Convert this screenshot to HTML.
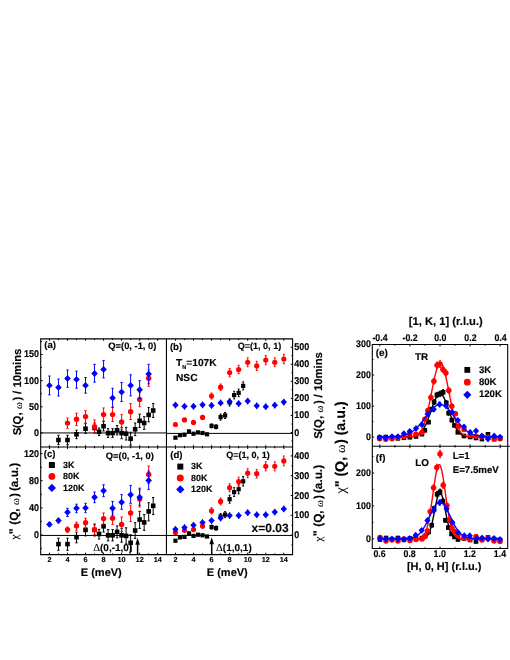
<!DOCTYPE html>
<html><head><meta charset="utf-8"><title>figure</title>
<style>html,body{margin:0;padding:0;background:#fff}svg{display:block}text{font-family:"Liberation Sans",sans-serif;font-weight:bold;fill:#000;stroke:#000;stroke-width:0.15px;text-rendering:geometricPrecision}.sy{font-family:"Liberation Serif",serif;font-weight:normal;stroke-width:0.1px}</style></head><body>
<svg width="510" height="660" viewBox="0 0 510 660">
<rect width="510" height="660" fill="#fff"/>
<g opacity="0.999">
<line x1="40.7" y1="432.95" x2="166.45" y2="432.95" stroke="#6e6e6e" stroke-width="1.7"/>
<line x1="40.7" y1="535.45" x2="166.45" y2="535.45" stroke="#000" stroke-width="1.0"/>
<line x1="166.45" y1="433.4" x2="292.6" y2="433.4" stroke="#000" stroke-width="1.0"/>
<line x1="166.45" y1="535.45" x2="292.6" y2="535.45" stroke="#000" stroke-width="1.0"/>
<path d="M58.47 435.3V444.6M57.27 435.3H59.67M57.27 444.6H59.67" stroke="#000" stroke-width="1.0" fill="none"/>
<rect x="56.17" y="437.7" width="4.6" height="4.6" fill="#000"/>
<path d="M67.49 435.3V444.6M66.29 435.3H68.69M66.29 444.6H68.69" stroke="#000" stroke-width="1.0" fill="none"/>
<rect x="65.19" y="437.7" width="4.6" height="4.6" fill="#000"/>
<path d="M76.51 430.2V438.7M75.31 430.2H77.71M75.31 438.7H77.71" stroke="#000" stroke-width="1.0" fill="none"/>
<rect x="74.21" y="432" width="4.6" height="4.6" fill="#000"/>
<path d="M85.53 423.6V433.4M84.33 423.6H86.73M84.33 433.4H86.73" stroke="#000" stroke-width="1.0" fill="none"/>
<rect x="83.23" y="426.4" width="4.6" height="4.6" fill="#000"/>
<path d="M94.55 423V433M93.35 423H95.75M93.35 433H95.75" stroke="#000" stroke-width="1.0" fill="none"/>
<rect x="92.25" y="425.7" width="4.6" height="4.6" fill="#000"/>
<path d="M99.06 428V435.6M97.86 428H100.26M97.86 435.6H100.26" stroke="#000" stroke-width="1.0" fill="none"/>
<rect x="96.76" y="429.5" width="4.6" height="4.6" fill="#000"/>
<path d="M103.57 421.5V431M102.37 421.5H104.77M102.37 431H104.77" stroke="#000" stroke-width="1.0" fill="none"/>
<rect x="101.27" y="423.9" width="4.6" height="4.6" fill="#000"/>
<path d="M108.08 428.7V437.4M106.88 428.7H109.28M106.88 437.4H109.28" stroke="#000" stroke-width="1.0" fill="none"/>
<rect x="105.78" y="430.8" width="4.6" height="4.6" fill="#000"/>
<path d="M112.59 428.7V437.4M111.39 428.7H113.79M111.39 437.4H113.79" stroke="#000" stroke-width="1.0" fill="none"/>
<rect x="110.29" y="430.8" width="4.6" height="4.6" fill="#000"/>
<path d="M117.1 425.5V434.9M115.9 425.5H118.3M115.9 434.9H118.3" stroke="#000" stroke-width="1.0" fill="none"/>
<rect x="114.8" y="427.9" width="4.6" height="4.6" fill="#000"/>
<path d="M121.61 427.4V438.7M120.41 427.4H122.81M120.41 438.7H122.81" stroke="#000" stroke-width="1.0" fill="none"/>
<rect x="119.31" y="430.8" width="4.6" height="4.6" fill="#000"/>
<path d="M126.12 427.4V440M124.92 427.4H127.32M124.92 440H127.32" stroke="#000" stroke-width="1.0" fill="none"/>
<rect x="123.82" y="431.4" width="4.6" height="4.6" fill="#000"/>
<path d="M130.63 432.2V445.2M129.43 432.2H131.83M129.43 445.2H131.83" stroke="#000" stroke-width="1.0" fill="none"/>
<rect x="128.33" y="436.4" width="4.6" height="4.6" fill="#000"/>
<path d="M135.14 423V435.6M133.94 423H136.34M133.94 435.6H136.34" stroke="#000" stroke-width="1.0" fill="none"/>
<rect x="132.84" y="427" width="4.6" height="4.6" fill="#000"/>
<path d="M139.65 414.2V427.4M138.45 414.2H140.85M138.45 427.4H140.85" stroke="#000" stroke-width="1.0" fill="none"/>
<rect x="137.35" y="418.5" width="4.6" height="4.6" fill="#000"/>
<path d="M144.16 416.7V429.3M142.96 416.7H145.36M142.96 429.3H145.36" stroke="#000" stroke-width="1.0" fill="none"/>
<rect x="141.86" y="420.7" width="4.6" height="4.6" fill="#000"/>
<path d="M148.67 407.6V421.8M147.47 407.6H149.87M147.47 421.8H149.87" stroke="#000" stroke-width="1.0" fill="none"/>
<rect x="146.37" y="412.6" width="4.6" height="4.6" fill="#000"/>
<path d="M153.18 403.6V417.4M151.98 403.6H154.38M151.98 417.4H154.38" stroke="#000" stroke-width="1.0" fill="none"/>
<rect x="150.88" y="408.2" width="4.6" height="4.6" fill="#000"/>
<path d="M67.49 418V428.3M66.29 418H68.69M66.29 428.3H68.69" stroke="#ff0000" stroke-width="1.0" fill="none"/>
<circle cx="67.49" cy="423.1" r="2.7" fill="#ff0000"/>
<path d="M76.51 413.2V425.5M75.31 413.2H77.71M75.31 425.5H77.71" stroke="#ff0000" stroke-width="1.0" fill="none"/>
<circle cx="76.51" cy="419.2" r="2.7" fill="#ff0000"/>
<path d="M85.53 410.7V423M84.33 410.7H86.73M84.33 423H86.73" stroke="#ff0000" stroke-width="1.0" fill="none"/>
<circle cx="85.53" cy="416.6" r="2.7" fill="#ff0000"/>
<path d="M94.55 420V432.8M93.35 420H95.75M93.35 432.8H95.75" stroke="#ff0000" stroke-width="1.0" fill="none"/>
<circle cx="94.55" cy="426.8" r="2.7" fill="#ff0000"/>
<path d="M103.57 408V421M102.37 408H104.77M102.37 421H104.77" stroke="#ff0000" stroke-width="1.0" fill="none"/>
<circle cx="103.57" cy="414.6" r="2.7" fill="#ff0000"/>
<path d="M112.59 407.3V421.5M111.39 407.3H113.79M111.39 421.5H113.79" stroke="#ff0000" stroke-width="1.0" fill="none"/>
<circle cx="112.59" cy="414.6" r="2.7" fill="#ff0000"/>
<path d="M121.61 414.6V429.3M120.41 414.6H122.81M120.41 429.3H122.81" stroke="#ff0000" stroke-width="1.0" fill="none"/>
<circle cx="121.61" cy="422" r="2.7" fill="#ff0000"/>
<path d="M130.63 403.6V419.5M129.43 403.6H131.83M129.43 419.5H131.83" stroke="#ff0000" stroke-width="1.0" fill="none"/>
<circle cx="130.63" cy="411.7" r="2.7" fill="#ff0000"/>
<path d="M139.65 392V406.7M138.45 392H140.85M138.45 406.7H140.85" stroke="#ff0000" stroke-width="1.0" fill="none"/>
<circle cx="139.65" cy="399.4" r="2.7" fill="#ff0000"/>
<path d="M148.67 370V386.3M147.47 370H149.87M147.47 386.3H149.87" stroke="#ff0000" stroke-width="1.0" fill="none"/>
<circle cx="148.67" cy="378.2" r="2.7" fill="#ff0000"/>
<path d="M49.45 376V394.8M48.25 376H50.65M48.25 394.8H50.65" stroke="#0000ff" stroke-width="1.0" fill="none"/>
<path d="M49.45 381.95L52.75 385.4L49.45 388.85L46.15 385.4Z" fill="#0000ff"/>
<path d="M58.47 379V396M57.27 379H59.67M57.27 396H59.67" stroke="#0000ff" stroke-width="1.0" fill="none"/>
<path d="M58.47 383.95L61.77 387.4L58.47 390.85L55.17 387.4Z" fill="#0000ff"/>
<path d="M67.49 370V387.3M66.29 370H68.69M66.29 387.3H68.69" stroke="#0000ff" stroke-width="1.0" fill="none"/>
<path d="M67.49 375.05L70.79 378.5L67.49 381.95L64.19 378.5Z" fill="#0000ff"/>
<path d="M76.51 371.2V388.2M75.31 371.2H77.71M75.31 388.2H77.71" stroke="#0000ff" stroke-width="1.0" fill="none"/>
<path d="M76.51 375.95L79.81 379.4L76.51 382.85L73.21 379.4Z" fill="#0000ff"/>
<path d="M85.53 377.5V393.2M84.33 377.5H86.73M84.33 393.2H86.73" stroke="#0000ff" stroke-width="1.0" fill="none"/>
<path d="M85.53 381.95L88.83 385.4L85.53 388.85L82.23 385.4Z" fill="#0000ff"/>
<path d="M94.55 364.3V382.2M93.35 364.3H95.75M93.35 382.2H95.75" stroke="#0000ff" stroke-width="1.0" fill="none"/>
<path d="M94.55 370.05L97.85 373.5L94.55 376.95L91.25 373.5Z" fill="#0000ff"/>
<path d="M103.57 360.6V377.9M102.37 360.6H104.77M102.37 377.9H104.77" stroke="#0000ff" stroke-width="1.0" fill="none"/>
<path d="M103.57 365.95L106.87 369.4L103.57 372.85L100.27 369.4Z" fill="#0000ff"/>
<path d="M112.59 388.3V407.3M111.39 388.3H113.79M111.39 407.3H113.79" stroke="#0000ff" stroke-width="1.0" fill="none"/>
<path d="M112.59 394.45L115.89 397.9L112.59 401.35L109.29 397.9Z" fill="#0000ff"/>
<path d="M121.61 382.5V401.5M120.41 382.5H122.81M120.41 401.5H122.81" stroke="#0000ff" stroke-width="1.0" fill="none"/>
<path d="M121.61 388.65L124.91 392.1L121.61 395.55L118.31 392.1Z" fill="#0000ff"/>
<path d="M130.63 374.8V395.9M129.43 374.8H131.83M129.43 395.9H131.83" stroke="#0000ff" stroke-width="1.0" fill="none"/>
<path d="M130.63 381.95L133.93 385.4L130.63 388.85L127.33 385.4Z" fill="#0000ff"/>
<path d="M139.65 380.7V398.7M138.45 380.7H140.85M138.45 398.7H140.85" stroke="#0000ff" stroke-width="1.0" fill="none"/>
<path d="M139.65 386.35L142.95 389.8L139.65 393.25L136.35 389.8Z" fill="#0000ff"/>
<path d="M148.67 364.3V383.8M147.47 364.3H149.87M147.47 383.8H149.87" stroke="#0000ff" stroke-width="1.0" fill="none"/>
<path d="M148.67 370.65L151.97 374.1L148.67 377.55L145.37 374.1Z" fill="#0000ff"/>
<path d="M58.47 538.2V550.3M57.27 538.2H59.67M57.27 550.3H59.67" stroke="#000" stroke-width="1.0" fill="none"/>
<rect x="56.17" y="541.8" width="4.6" height="4.6" fill="#000"/>
<path d="M67.49 538.2V550.3M66.29 538.2H68.69M66.29 550.3H68.69" stroke="#000" stroke-width="1.0" fill="none"/>
<rect x="65.19" y="541.8" width="4.6" height="4.6" fill="#000"/>
<path d="M76.51 532.2V542.8M75.31 532.2H77.71M75.31 542.8H77.71" stroke="#000" stroke-width="1.0" fill="none"/>
<rect x="74.21" y="534.9" width="4.6" height="4.6" fill="#000"/>
<path d="M85.53 524V535.9M84.33 524H86.73M84.33 535.9H86.73" stroke="#000" stroke-width="1.0" fill="none"/>
<rect x="83.23" y="527.6" width="4.6" height="4.6" fill="#000"/>
<path d="M94.55 524V536M93.35 524H95.75M93.35 536H95.75" stroke="#000" stroke-width="1.0" fill="none"/>
<rect x="92.25" y="527.6" width="4.6" height="4.6" fill="#000"/>
<path d="M99.06 529.4V539M97.86 529.4H100.26M97.86 539H100.26" stroke="#000" stroke-width="1.0" fill="none"/>
<rect x="96.76" y="531.7" width="4.6" height="4.6" fill="#000"/>
<path d="M103.57 520.5V532M102.37 520.5H104.77M102.37 532H104.77" stroke="#000" stroke-width="1.0" fill="none"/>
<rect x="101.27" y="524" width="4.6" height="4.6" fill="#000"/>
<path d="M108.08 529.6V540.9M106.88 529.6H109.28M106.88 540.9H109.28" stroke="#000" stroke-width="1.0" fill="none"/>
<rect x="105.78" y="533" width="4.6" height="4.6" fill="#000"/>
<path d="M112.59 529.6V540.9M111.39 529.6H113.79M111.39 540.9H113.79" stroke="#000" stroke-width="1.0" fill="none"/>
<rect x="110.29" y="533" width="4.6" height="4.6" fill="#000"/>
<path d="M117.1 525.9V537.8M115.9 525.9H118.3M115.9 537.8H118.3" stroke="#000" stroke-width="1.0" fill="none"/>
<rect x="114.8" y="529.6" width="4.6" height="4.6" fill="#000"/>
<path d="M121.61 528.4V542.2M120.41 528.4H122.81M120.41 542.2H122.81" stroke="#000" stroke-width="1.0" fill="none"/>
<rect x="119.31" y="533" width="4.6" height="4.6" fill="#000"/>
<path d="M126.12 527.8V544M124.92 527.8H127.32M124.92 544H127.32" stroke="#000" stroke-width="1.0" fill="none"/>
<rect x="123.82" y="533.6" width="4.6" height="4.6" fill="#000"/>
<path d="M130.63 534.7V551M129.43 534.7H131.83M129.43 551H131.83" stroke="#000" stroke-width="1.0" fill="none"/>
<rect x="128.33" y="540.5" width="4.6" height="4.6" fill="#000"/>
<path d="M135.14 522.7V538.4M133.94 522.7H136.34M133.94 538.4H136.34" stroke="#000" stroke-width="1.0" fill="none"/>
<rect x="132.84" y="528.2" width="4.6" height="4.6" fill="#000"/>
<path d="M139.65 511.4V528.4M138.45 511.4H140.85M138.45 528.4H140.85" stroke="#000" stroke-width="1.0" fill="none"/>
<rect x="137.35" y="517.3" width="4.6" height="4.6" fill="#000"/>
<path d="M144.16 514.6V530.3M142.96 514.6H145.36M142.96 530.3H145.36" stroke="#000" stroke-width="1.0" fill="none"/>
<rect x="141.86" y="520.1" width="4.6" height="4.6" fill="#000"/>
<path d="M148.67 502.7V520.9M147.47 502.7H149.87M147.47 520.9H149.87" stroke="#000" stroke-width="1.0" fill="none"/>
<rect x="146.37" y="509.1" width="4.6" height="4.6" fill="#000"/>
<path d="M153.18 497.6V514.6M151.98 497.6H154.38M151.98 514.6H154.38" stroke="#000" stroke-width="1.0" fill="none"/>
<rect x="150.88" y="503.5" width="4.6" height="4.6" fill="#000"/>
<path d="M67.49 527.1V532.4M66.29 527.1H68.69M66.29 532.4H68.69" stroke="#ff0000" stroke-width="1.0" fill="none"/>
<circle cx="67.49" cy="529.6" r="2.7" fill="#ff0000"/>
<path d="M76.51 522.1V530.3M75.31 522.1H77.71M75.31 530.3H77.71" stroke="#ff0000" stroke-width="1.0" fill="none"/>
<circle cx="76.51" cy="525.9" r="2.7" fill="#ff0000"/>
<path d="M85.53 518.3V527.8M84.33 518.3H86.73M84.33 527.8H86.73" stroke="#ff0000" stroke-width="1.0" fill="none"/>
<circle cx="85.53" cy="522.7" r="2.7" fill="#ff0000"/>
<path d="M94.55 525.2V534.7M93.35 525.2H95.75M93.35 534.7H95.75" stroke="#ff0000" stroke-width="1.0" fill="none"/>
<circle cx="94.55" cy="529.6" r="2.7" fill="#ff0000"/>
<path d="M103.57 513V524M102.37 513H104.77M102.37 524H104.77" stroke="#ff0000" stroke-width="1.0" fill="none"/>
<circle cx="103.57" cy="518.6" r="2.7" fill="#ff0000"/>
<path d="M112.59 512V524.4M111.39 512H113.79M111.39 524.4H113.79" stroke="#ff0000" stroke-width="1.0" fill="none"/>
<circle cx="112.59" cy="518.3" r="2.7" fill="#ff0000"/>
<path d="M121.61 517V531.5M120.41 517H122.81M120.41 531.5H122.81" stroke="#ff0000" stroke-width="1.0" fill="none"/>
<circle cx="121.61" cy="524.4" r="2.7" fill="#ff0000"/>
<path d="M130.63 505.2V521.5M129.43 505.2H131.83M129.43 521.5H131.83" stroke="#ff0000" stroke-width="1.0" fill="none"/>
<circle cx="130.63" cy="513" r="2.7" fill="#ff0000"/>
<path d="M139.65 489.8V507M138.45 489.8H140.85M138.45 507H140.85" stroke="#ff0000" stroke-width="1.0" fill="none"/>
<circle cx="139.65" cy="499" r="2.7" fill="#ff0000"/>
<path d="M148.67 466V483.5M147.47 466H149.87M147.47 483.5H149.87" stroke="#ff0000" stroke-width="1.0" fill="none"/>
<circle cx="148.67" cy="474.5" r="2.7" fill="#ff0000"/>
<path d="M49.45 522.6V526.2M48.25 522.6H50.65M48.25 526.2H50.65" stroke="#0000ff" stroke-width="1.0" fill="none"/>
<path d="M49.45 520.95L52.75 524.4L49.45 527.85L46.15 524.4Z" fill="#0000ff"/>
<path d="M58.47 518.4V522.8M57.27 518.4H59.67M57.27 522.8H59.67" stroke="#0000ff" stroke-width="1.0" fill="none"/>
<path d="M58.47 517.15L61.77 520.6L58.47 524.05L55.17 520.6Z" fill="#0000ff"/>
<path d="M67.49 508.3V516.5M66.29 508.3H68.69M66.29 516.5H68.69" stroke="#0000ff" stroke-width="1.0" fill="none"/>
<path d="M67.49 508.85L70.79 512.3L67.49 515.75L64.19 512.3Z" fill="#0000ff"/>
<path d="M76.51 504.2V512.7M75.31 504.2H77.71M75.31 512.7H77.71" stroke="#0000ff" stroke-width="1.0" fill="none"/>
<path d="M76.51 504.85L79.81 508.3L76.51 511.75L73.21 508.3Z" fill="#0000ff"/>
<path d="M85.53 503.3V512.7M84.33 503.3H86.73M84.33 512.7H86.73" stroke="#0000ff" stroke-width="1.0" fill="none"/>
<path d="M85.53 504.45L88.83 507.9L85.53 511.35L82.23 507.9Z" fill="#0000ff"/>
<path d="M94.55 492V502.7M93.35 492H95.75M93.35 502.7H95.75" stroke="#0000ff" stroke-width="1.0" fill="none"/>
<path d="M94.55 493.85L97.85 497.3L94.55 500.75L91.25 497.3Z" fill="#0000ff"/>
<path d="M103.57 484.8V496.7M102.37 484.8H104.77M102.37 496.7H104.77" stroke="#0000ff" stroke-width="1.0" fill="none"/>
<path d="M103.57 487.25L106.87 490.7L103.57 494.15L100.27 490.7Z" fill="#0000ff"/>
<path d="M112.59 501.4V515M111.39 501.4H113.79M111.39 515H113.79" stroke="#0000ff" stroke-width="1.0" fill="none"/>
<path d="M112.59 504.85L115.89 508.3L112.59 511.75L109.29 508.3Z" fill="#0000ff"/>
<path d="M121.61 494.6V509.3M120.41 494.6H122.81M120.41 509.3H122.81" stroke="#0000ff" stroke-width="1.0" fill="none"/>
<path d="M121.61 498.75L124.91 502.2L121.61 505.65L118.31 502.2Z" fill="#0000ff"/>
<path d="M130.63 485.4V503.3M129.43 485.4H131.83M129.43 503.3H131.83" stroke="#0000ff" stroke-width="1.0" fill="none"/>
<path d="M130.63 491.25L133.93 494.7L130.63 498.15L127.33 494.7Z" fill="#0000ff"/>
<path d="M139.65 488.2V505.2M138.45 488.2H140.85M138.45 505.2H140.85" stroke="#0000ff" stroke-width="1.0" fill="none"/>
<path d="M139.65 493.75L142.95 497.2L139.65 500.65L136.35 497.2Z" fill="#0000ff"/>
<path d="M148.67 471V489.4M147.47 471H149.87M147.47 489.4H149.87" stroke="#0000ff" stroke-width="1.0" fill="none"/>
<path d="M148.67 476.95L151.97 480.4L148.67 483.85L145.37 480.4Z" fill="#0000ff"/>
<path d="M175.45 436.7V438.7M174.45 436.7H176.45M174.45 438.7H176.45" stroke="#000" stroke-width="1.0" fill="none"/>
<rect x="173.35" y="435.6" width="4.2" height="4.2" fill="#000"/>
<path d="M179.96 434.2V436.2M178.96 434.2H180.96M178.96 436.2H180.96" stroke="#000" stroke-width="1.0" fill="none"/>
<rect x="177.86" y="433.1" width="4.2" height="4.2" fill="#000"/>
<path d="M184.48 433.7V435.7M183.48 433.7H185.48M183.48 435.7H185.48" stroke="#000" stroke-width="1.0" fill="none"/>
<rect x="182.38" y="432.6" width="4.2" height="4.2" fill="#000"/>
<path d="M188.99 430.4V432.4M187.99 430.4H189.99M187.99 432.4H189.99" stroke="#000" stroke-width="1.0" fill="none"/>
<rect x="186.89" y="429.3" width="4.2" height="4.2" fill="#000"/>
<path d="M193.51 432.7V434.7M192.51 432.7H194.51M192.51 434.7H194.51" stroke="#000" stroke-width="1.0" fill="none"/>
<rect x="191.41" y="431.6" width="4.2" height="4.2" fill="#000"/>
<path d="M198.02 431.4V433.4M197.02 431.4H199.02M197.02 433.4H199.02" stroke="#000" stroke-width="1.0" fill="none"/>
<rect x="195.92" y="430.3" width="4.2" height="4.2" fill="#000"/>
<path d="M202.54 432V434M201.54 432H203.54M201.54 434H203.54" stroke="#000" stroke-width="1.0" fill="none"/>
<rect x="200.44" y="430.9" width="4.2" height="4.2" fill="#000"/>
<path d="M207.05 433.3V435.3M206.05 433.3H208.05M206.05 435.3H208.05" stroke="#000" stroke-width="1.0" fill="none"/>
<rect x="204.95" y="432.2" width="4.2" height="4.2" fill="#000"/>
<path d="M211.57 423.9V427.9M210.57 423.9H212.57M210.57 427.9H212.57" stroke="#000" stroke-width="1.0" fill="none"/>
<rect x="209.47" y="423.8" width="4.2" height="4.2" fill="#000"/>
<path d="M216.08 424.8V428.8M215.08 424.8H217.08M215.08 428.8H217.08" stroke="#000" stroke-width="1.0" fill="none"/>
<rect x="213.98" y="424.7" width="4.2" height="4.2" fill="#000"/>
<path d="M220.6 414.1V420.1M219.6 414.1H221.6M219.6 420.1H221.6" stroke="#000" stroke-width="1.0" fill="none"/>
<rect x="218.5" y="415" width="4.2" height="4.2" fill="#000"/>
<path d="M225.11 412.5V418.5M224.11 412.5H226.11M224.11 418.5H226.11" stroke="#000" stroke-width="1.0" fill="none"/>
<rect x="223.01" y="413.4" width="4.2" height="4.2" fill="#000"/>
<path d="M229.63 399V406M228.63 399H230.63M228.63 406H230.63" stroke="#000" stroke-width="1.0" fill="none"/>
<rect x="227.53" y="400.4" width="4.2" height="4.2" fill="#000"/>
<path d="M234.14 391.3V398.9M233.14 391.3H235.14M233.14 398.9H235.14" stroke="#000" stroke-width="1.0" fill="none"/>
<rect x="232.04" y="393" width="4.2" height="4.2" fill="#000"/>
<path d="M238.66 389.1V396.7M237.66 389.1H239.66M237.66 396.7H239.66" stroke="#000" stroke-width="1.0" fill="none"/>
<rect x="236.56" y="390.8" width="4.2" height="4.2" fill="#000"/>
<path d="M243.17 381.9V389.9M242.17 381.9H244.17M242.17 389.9H244.17" stroke="#000" stroke-width="1.0" fill="none"/>
<rect x="241.07" y="383.8" width="4.2" height="4.2" fill="#000"/>
<path d="M175.45 423V426M174.45 423H176.45M174.45 426H176.45" stroke="#ff0000" stroke-width="1.0" fill="none"/>
<circle cx="175.45" cy="424.5" r="2.6" fill="#ff0000"/>
<path d="M184.48 418.4V421.4M183.48 418.4H185.48M183.48 421.4H185.48" stroke="#ff0000" stroke-width="1.0" fill="none"/>
<circle cx="184.48" cy="419.9" r="2.6" fill="#ff0000"/>
<path d="M193.51 420.9V423.9M192.51 420.9H194.51M192.51 423.9H194.51" stroke="#ff0000" stroke-width="1.0" fill="none"/>
<circle cx="193.51" cy="422.4" r="2.6" fill="#ff0000"/>
<path d="M202.54 415.4V419.4M201.54 415.4H203.54M201.54 419.4H203.54" stroke="#ff0000" stroke-width="1.0" fill="none"/>
<circle cx="202.54" cy="417.4" r="2.6" fill="#ff0000"/>
<path d="M211.57 393V399M210.57 393H212.57M210.57 399H212.57" stroke="#ff0000" stroke-width="1.0" fill="none"/>
<circle cx="211.57" cy="396" r="2.6" fill="#ff0000"/>
<path d="M220.6 384V390.4M219.6 384H221.6M219.6 390.4H221.6" stroke="#ff0000" stroke-width="1.0" fill="none"/>
<circle cx="220.6" cy="387.2" r="2.6" fill="#ff0000"/>
<path d="M229.63 368.4V376.8M228.63 368.4H230.63M228.63 376.8H230.63" stroke="#ff0000" stroke-width="1.0" fill="none"/>
<circle cx="229.63" cy="372.6" r="2.6" fill="#ff0000"/>
<path d="M238.66 365.3V373.7M237.66 365.3H239.66M237.66 373.7H239.66" stroke="#ff0000" stroke-width="1.0" fill="none"/>
<circle cx="238.66" cy="369.5" r="2.6" fill="#ff0000"/>
<path d="M247.69 357.9V366.7M246.69 357.9H248.69M246.69 366.7H248.69" stroke="#ff0000" stroke-width="1.0" fill="none"/>
<circle cx="247.69" cy="362.3" r="2.6" fill="#ff0000"/>
<path d="M256.72 361.3V370.5M255.72 361.3H257.72M255.72 370.5H257.72" stroke="#ff0000" stroke-width="1.0" fill="none"/>
<circle cx="256.72" cy="365.9" r="2.6" fill="#ff0000"/>
<path d="M265.75 355.5V364.7M264.75 355.5H266.75M264.75 364.7H266.75" stroke="#ff0000" stroke-width="1.0" fill="none"/>
<circle cx="265.75" cy="360.1" r="2.6" fill="#ff0000"/>
<path d="M274.78 357.9V366.7M273.78 357.9H275.78M273.78 366.7H275.78" stroke="#ff0000" stroke-width="1.0" fill="none"/>
<circle cx="274.78" cy="362.3" r="2.6" fill="#ff0000"/>
<path d="M283.81 354.3V363.7M282.81 354.3H284.81M282.81 363.7H284.81" stroke="#ff0000" stroke-width="1.0" fill="none"/>
<circle cx="283.81" cy="359" r="2.6" fill="#ff0000"/>
<path d="M175.45 401.8V408.4M175.45 401.8H175.45M175.45 408.4H175.45" stroke="#0000ff" stroke-width="1.0" fill="none"/>
<path d="M175.45 401.75L178.65 405.1L175.45 408.45L172.25 405.1Z" fill="#0000ff"/>
<path d="M184.48 403V409.6M184.48 403H184.48M184.48 409.6H184.48" stroke="#0000ff" stroke-width="1.0" fill="none"/>
<path d="M184.48 402.95L187.68 406.3L184.48 409.65L181.28 406.3Z" fill="#0000ff"/>
<path d="M193.51 403V409.6M193.51 403H193.51M193.51 409.6H193.51" stroke="#0000ff" stroke-width="1.0" fill="none"/>
<path d="M193.51 402.95L196.71 406.3L193.51 409.65L190.31 406.3Z" fill="#0000ff"/>
<path d="M202.54 401.5V408.1M202.54 401.5H202.54M202.54 408.1H202.54" stroke="#0000ff" stroke-width="1.0" fill="none"/>
<path d="M202.54 401.45L205.74 404.8L202.54 408.15L199.34 404.8Z" fill="#0000ff"/>
<path d="M211.57 402.1V408.7M211.57 402.1H211.57M211.57 408.7H211.57" stroke="#0000ff" stroke-width="1.0" fill="none"/>
<path d="M211.57 402.05L214.77 405.4L211.57 408.75L208.37 405.4Z" fill="#0000ff"/>
<path d="M220.6 399.6V406.2M220.6 399.6H220.6M220.6 406.2H220.6" stroke="#0000ff" stroke-width="1.0" fill="none"/>
<path d="M220.6 399.55L223.8 402.9L220.6 406.25L217.4 402.9Z" fill="#0000ff"/>
<path d="M229.63 398.4V405M229.63 398.4H229.63M229.63 405H229.63" stroke="#0000ff" stroke-width="1.0" fill="none"/>
<path d="M229.63 398.35L232.83 401.7L229.63 405.05L226.43 401.7Z" fill="#0000ff"/>
<path d="M238.66 400.3V406.9M238.66 400.3H238.66M238.66 406.9H238.66" stroke="#0000ff" stroke-width="1.0" fill="none"/>
<path d="M238.66 400.25L241.86 403.6L238.66 406.95L235.46 403.6Z" fill="#0000ff"/>
<path d="M247.69 397.8V404.4M247.69 397.8H247.69M247.69 404.4H247.69" stroke="#0000ff" stroke-width="1.0" fill="none"/>
<path d="M247.69 397.75L250.89 401.1L247.69 404.45L244.49 401.1Z" fill="#0000ff"/>
<path d="M256.72 402.5V409.1M256.72 402.5H256.72M256.72 409.1H256.72" stroke="#0000ff" stroke-width="1.0" fill="none"/>
<path d="M256.72 402.45L259.92 405.8L256.72 409.15L253.52 405.8Z" fill="#0000ff"/>
<path d="M265.75 403.4V410M265.75 403.4H265.75M265.75 410H265.75" stroke="#0000ff" stroke-width="1.0" fill="none"/>
<path d="M265.75 403.35L268.95 406.7L265.75 410.05L262.55 406.7Z" fill="#0000ff"/>
<path d="M274.78 401.9V408.5M274.78 401.9H274.78M274.78 408.5H274.78" stroke="#0000ff" stroke-width="1.0" fill="none"/>
<path d="M274.78 401.85L277.98 405.2L274.78 408.55L271.58 405.2Z" fill="#0000ff"/>
<path d="M283.81 398.8V405.4M283.81 398.8H283.81M283.81 405.4H283.81" stroke="#0000ff" stroke-width="1.0" fill="none"/>
<path d="M283.81 398.75L287.01 402.1L283.81 405.45L280.61 402.1Z" fill="#0000ff"/>
<path d="M175.45 539.7V541.7M174.45 539.7H176.45M174.45 541.7H176.45" stroke="#000" stroke-width="1.0" fill="none"/>
<rect x="173.35" y="538.6" width="4.2" height="4.2" fill="#000"/>
<path d="M179.96 536.4V538.4M178.96 536.4H180.96M178.96 538.4H180.96" stroke="#000" stroke-width="1.0" fill="none"/>
<rect x="177.86" y="535.3" width="4.2" height="4.2" fill="#000"/>
<path d="M184.48 535.9V537.9M183.48 535.9H185.48M183.48 537.9H185.48" stroke="#000" stroke-width="1.0" fill="none"/>
<rect x="182.38" y="534.8" width="4.2" height="4.2" fill="#000"/>
<path d="M188.99 532.4V534.4M187.99 532.4H189.99M187.99 534.4H189.99" stroke="#000" stroke-width="1.0" fill="none"/>
<rect x="186.89" y="531.3" width="4.2" height="4.2" fill="#000"/>
<path d="M193.51 534.9V536.9M192.51 534.9H194.51M192.51 536.9H194.51" stroke="#000" stroke-width="1.0" fill="none"/>
<rect x="191.41" y="533.8" width="4.2" height="4.2" fill="#000"/>
<path d="M198.02 533.7V535.7M197.02 533.7H199.02M197.02 535.7H199.02" stroke="#000" stroke-width="1.0" fill="none"/>
<rect x="195.92" y="532.6" width="4.2" height="4.2" fill="#000"/>
<path d="M202.54 534.3V536.3M201.54 534.3H203.54M201.54 536.3H203.54" stroke="#000" stroke-width="1.0" fill="none"/>
<rect x="200.44" y="533.2" width="4.2" height="4.2" fill="#000"/>
<path d="M207.05 535.5V537.5M206.05 535.5H208.05M206.05 537.5H208.05" stroke="#000" stroke-width="1.0" fill="none"/>
<rect x="204.95" y="534.4" width="4.2" height="4.2" fill="#000"/>
<path d="M211.57 525.1V529.1M210.57 525.1H212.57M210.57 529.1H212.57" stroke="#000" stroke-width="1.0" fill="none"/>
<rect x="209.47" y="525" width="4.2" height="4.2" fill="#000"/>
<path d="M216.08 526.1V530.1M215.08 526.1H217.08M215.08 530.1H217.08" stroke="#000" stroke-width="1.0" fill="none"/>
<rect x="213.98" y="526" width="4.2" height="4.2" fill="#000"/>
<path d="M220.6 513.5V519.5M219.6 513.5H221.6M219.6 519.5H221.6" stroke="#000" stroke-width="1.0" fill="none"/>
<rect x="218.5" y="514.4" width="4.2" height="4.2" fill="#000"/>
<path d="M225.11 511.6V517.6M224.11 511.6H226.11M224.11 517.6H226.11" stroke="#000" stroke-width="1.0" fill="none"/>
<rect x="223.01" y="512.5" width="4.2" height="4.2" fill="#000"/>
<path d="M229.63 495.2V503.2M228.63 495.2H230.63M228.63 503.2H230.63" stroke="#000" stroke-width="1.0" fill="none"/>
<rect x="227.53" y="497.1" width="4.2" height="4.2" fill="#000"/>
<path d="M234.14 487.7V496.5M233.14 487.7H235.14M233.14 496.5H235.14" stroke="#000" stroke-width="1.0" fill="none"/>
<rect x="232.04" y="490" width="4.2" height="4.2" fill="#000"/>
<path d="M238.66 484.7V493.7M237.66 484.7H239.66M237.66 493.7H239.66" stroke="#000" stroke-width="1.0" fill="none"/>
<rect x="236.56" y="487.1" width="4.2" height="4.2" fill="#000"/>
<path d="M243.17 476.6V486M242.17 476.6H244.17M242.17 486H244.17" stroke="#000" stroke-width="1.0" fill="none"/>
<rect x="241.07" y="479.2" width="4.2" height="4.2" fill="#000"/>
<path d="M175.45 530.9V533.9M174.45 530.9H176.45M174.45 533.9H176.45" stroke="#ff0000" stroke-width="1.0" fill="none"/>
<circle cx="175.45" cy="532.4" r="2.6" fill="#ff0000"/>
<path d="M184.48 528.8V531.8M183.48 528.8H185.48M183.48 531.8H185.48" stroke="#ff0000" stroke-width="1.0" fill="none"/>
<circle cx="184.48" cy="530.3" r="2.6" fill="#ff0000"/>
<path d="M193.51 528.1V531.1M192.51 528.1H194.51M192.51 531.1H194.51" stroke="#ff0000" stroke-width="1.0" fill="none"/>
<circle cx="193.51" cy="529.6" r="2.6" fill="#ff0000"/>
<path d="M202.54 524.1V528.1M201.54 524.1H203.54M201.54 528.1H203.54" stroke="#ff0000" stroke-width="1.0" fill="none"/>
<circle cx="202.54" cy="526.1" r="2.6" fill="#ff0000"/>
<path d="M211.57 507.8V513.8M210.57 507.8H212.57M210.57 513.8H212.57" stroke="#ff0000" stroke-width="1.0" fill="none"/>
<circle cx="211.57" cy="510.8" r="2.6" fill="#ff0000"/>
<path d="M220.6 498V504.8M219.6 498H221.6M219.6 504.8H221.6" stroke="#ff0000" stroke-width="1.0" fill="none"/>
<circle cx="220.6" cy="501.4" r="2.6" fill="#ff0000"/>
<path d="M229.63 483.7V491.7M228.63 483.7H230.63M228.63 491.7H230.63" stroke="#ff0000" stroke-width="1.0" fill="none"/>
<circle cx="229.63" cy="487.7" r="2.6" fill="#ff0000"/>
<path d="M238.66 477.2V486M237.66 477.2H239.66M237.66 486H239.66" stroke="#ff0000" stroke-width="1.0" fill="none"/>
<circle cx="238.66" cy="481.6" r="2.6" fill="#ff0000"/>
<path d="M247.69 468.8V477.6M246.69 468.8H248.69M246.69 477.6H248.69" stroke="#ff0000" stroke-width="1.0" fill="none"/>
<circle cx="247.69" cy="473.2" r="2.6" fill="#ff0000"/>
<path d="M256.72 469.4V478M255.72 469.4H257.72M255.72 478H257.72" stroke="#ff0000" stroke-width="1.0" fill="none"/>
<circle cx="256.72" cy="473.7" r="2.6" fill="#ff0000"/>
<path d="M265.75 461.8V470.8M264.75 461.8H266.75M264.75 470.8H266.75" stroke="#ff0000" stroke-width="1.0" fill="none"/>
<circle cx="265.75" cy="466.3" r="2.6" fill="#ff0000"/>
<path d="M274.78 461.8V470.8M273.78 461.8H275.78M273.78 470.8H275.78" stroke="#ff0000" stroke-width="1.0" fill="none"/>
<circle cx="274.78" cy="466.3" r="2.6" fill="#ff0000"/>
<path d="M283.81 456V465.8M282.81 456H284.81M282.81 465.8H284.81" stroke="#ff0000" stroke-width="1.0" fill="none"/>
<circle cx="283.81" cy="460.9" r="2.6" fill="#ff0000"/>
<path d="M175.45 526V532.6M175.45 526H175.45M175.45 532.6H175.45" stroke="#0000ff" stroke-width="1.0" fill="none"/>
<path d="M175.45 525.95L178.65 529.3L175.45 532.65L172.25 529.3Z" fill="#0000ff"/>
<path d="M184.48 524.2V530.8M184.48 524.2H184.48M184.48 530.8H184.48" stroke="#0000ff" stroke-width="1.0" fill="none"/>
<path d="M184.48 524.15L187.68 527.5L184.48 530.85L181.28 527.5Z" fill="#0000ff"/>
<path d="M193.51 521.9V528.5M193.51 521.9H193.51M193.51 528.5H193.51" stroke="#0000ff" stroke-width="1.0" fill="none"/>
<path d="M193.51 521.85L196.71 525.2L193.51 528.55L190.31 525.2Z" fill="#0000ff"/>
<path d="M202.54 519.2V525.8M202.54 519.2H202.54M202.54 525.8H202.54" stroke="#0000ff" stroke-width="1.0" fill="none"/>
<path d="M202.54 519.15L205.74 522.5L202.54 525.85L199.34 522.5Z" fill="#0000ff"/>
<path d="M211.57 517.3V523.9M211.57 517.3H211.57M211.57 523.9H211.57" stroke="#0000ff" stroke-width="1.0" fill="none"/>
<path d="M211.57 517.25L214.77 520.6L211.57 523.95L208.37 520.6Z" fill="#0000ff"/>
<path d="M220.6 514.8V521.4M220.6 514.8H220.6M220.6 521.4H220.6" stroke="#0000ff" stroke-width="1.0" fill="none"/>
<path d="M220.6 514.75L223.8 518.1L220.6 521.45L217.4 518.1Z" fill="#0000ff"/>
<path d="M229.63 512.3V518.9M229.63 512.3H229.63M229.63 518.9H229.63" stroke="#0000ff" stroke-width="1.0" fill="none"/>
<path d="M229.63 512.25L232.83 515.6L229.63 518.95L226.43 515.6Z" fill="#0000ff"/>
<path d="M238.66 512.3V518.9M238.66 512.3H238.66M238.66 518.9H238.66" stroke="#0000ff" stroke-width="1.0" fill="none"/>
<path d="M238.66 512.25L241.86 515.6L238.66 518.95L235.46 515.6Z" fill="#0000ff"/>
<path d="M247.69 509.4V516M247.69 509.4H247.69M247.69 516H247.69" stroke="#0000ff" stroke-width="1.0" fill="none"/>
<path d="M247.69 509.35L250.89 512.7L247.69 516.05L244.49 512.7Z" fill="#0000ff"/>
<path d="M256.72 511.5V518.1M256.72 511.5H256.72M256.72 518.1H256.72" stroke="#0000ff" stroke-width="1.0" fill="none"/>
<path d="M256.72 511.45L259.92 514.8L256.72 518.15L253.52 514.8Z" fill="#0000ff"/>
<path d="M265.75 511.5V518.1M265.75 511.5H265.75M265.75 518.1H265.75" stroke="#0000ff" stroke-width="1.0" fill="none"/>
<path d="M265.75 511.45L268.95 514.8L265.75 518.15L262.55 514.8Z" fill="#0000ff"/>
<path d="M274.78 508.8V515.4M274.78 508.8H274.78M274.78 515.4H274.78" stroke="#0000ff" stroke-width="1.0" fill="none"/>
<path d="M274.78 508.75L277.98 512.1L274.78 515.45L271.58 512.1Z" fill="#0000ff"/>
<path d="M283.81 505.6V512.2M283.81 505.6H283.81M283.81 512.2H283.81" stroke="#0000ff" stroke-width="1.0" fill="none"/>
<path d="M283.81 505.55L287.01 508.9L283.81 512.25L280.61 508.9Z" fill="#0000ff"/>
<path d="M40.7 446.95000000000005H292.6" fill="none" stroke="#505050" stroke-width="1.6"/>
<path d="M40.7 338.9H292.6V554.6H40.7Z M166.45 338.9V554.6" fill="none" stroke="#000" stroke-width="1.1"/>
<path d="M49.45 338.9V340.8M67.49 338.9V340.8M85.53 338.9V340.8M103.57 338.9V340.8M121.61 338.9V340.8M139.65 338.9V340.8M157.69 338.9V340.8M58.47 338.9V340.1M76.51 338.9V340.1M94.55 338.9V340.1M112.59 338.9V340.1M130.63 338.9V340.1M148.67 338.9V340.1" stroke="#000" stroke-width="1.0" fill="none"/>
<path d="M49.45 445.2V449M67.49 445.2V449M85.53 445.2V449M103.57 445.2V449M121.61 445.2V449M139.65 445.2V449M157.69 445.2V449M58.47 445.9V448.3M76.51 445.9V448.3M94.55 445.9V448.3M112.59 445.9V448.3M130.63 445.9V448.3M148.67 445.9V448.3" stroke="#000" stroke-width="1.0" fill="none"/>
<path d="M49.45 552.7V554.6M67.49 552.7V554.6M85.53 552.7V554.6M103.57 552.7V554.6M121.61 552.7V554.6M139.65 552.7V554.6M157.69 552.7V554.6M58.47 553.4V554.6M76.51 553.4V554.6M94.55 553.4V554.6M112.59 553.4V554.6M130.63 553.4V554.6M148.67 553.4V554.6" stroke="#000" stroke-width="1.0" fill="none"/>
<path d="M175.45 338.9V340.8M193.51 338.9V340.8M211.57 338.9V340.8M229.63 338.9V340.8M247.69 338.9V340.8M265.75 338.9V340.8M283.81 338.9V340.8M184.48 338.9V340.1M202.54 338.9V340.1M220.6 338.9V340.1M238.66 338.9V340.1M256.72 338.9V340.1M274.78 338.9V340.1" stroke="#000" stroke-width="1.0" fill="none"/>
<path d="M175.45 445.2V449M193.51 445.2V449M211.57 445.2V449M229.63 445.2V449M247.69 445.2V449M265.75 445.2V449M283.81 445.2V449M184.48 445.9V448.3M202.54 445.9V448.3M220.6 445.9V448.3M238.66 445.9V448.3M256.72 445.9V448.3M274.78 445.9V448.3" stroke="#000" stroke-width="1.0" fill="none"/>
<path d="M175.45 552.7V554.6M193.51 552.7V554.6M211.57 552.7V554.6M229.63 552.7V554.6M247.69 552.7V554.6M265.75 552.7V554.6M283.81 552.7V554.6M184.48 553.4V554.6M202.54 553.4V554.6M220.6 553.4V554.6M238.66 553.4V554.6M256.72 553.4V554.6M274.78 553.4V554.6" stroke="#000" stroke-width="1.0" fill="none"/>
<path d="M40.7 354.5H42.6M40.7 380.6H42.6M40.7 406.8H42.6M40.7 432.9H42.6M40.7 341.4H41.9M40.7 367.5H41.9M40.7 393.7H41.9M40.7 419.9H41.9" stroke="#000" stroke-width="1.0" fill="none"/>
<path d="M40.7 453.6H42.6M40.7 480.7H42.6M40.7 507.9H42.6M40.7 535H42.6M40.7 467.2H41.9M40.7 494.3H41.9M40.7 521.4H41.9M40.7 548.6H41.9" stroke="#000" stroke-width="1.0" fill="none"/>
<path d="M290.7 347.2H292.6M290.7 364.3H292.6M290.7 381.3H292.6M290.7 398.4H292.6M290.7 415.4H292.6M290.7 432.5H292.6M291.4 355.7H292.6M291.4 372.8H292.6M291.4 389.9H292.6M291.4 406.9H292.6M291.4 424H292.6M291.4 441H292.6" stroke="#000" stroke-width="1.0" fill="none"/>
<path d="M290.7 455.9H292.6M290.7 475.7H292.6M290.7 495.5H292.6M290.7 515.3H292.6M290.7 535.1H292.6M291.4 465.8H292.6M291.4 485.6H292.6M291.4 505.4H292.6M291.4 525.2H292.6M291.4 545H292.6" stroke="#000" stroke-width="1.0" fill="none"/>
<text transform="translate(39 357.35) scale(1 1.1)" font-size="9.0" text-anchor="end" >150</text>
<text transform="translate(39 383.55) scale(1 1.1)" font-size="9.0" text-anchor="end" >100</text>
<text transform="translate(39 409.75) scale(1 1.1)" font-size="9.0" text-anchor="end" >50</text>
<text transform="translate(39 435.85) scale(1 1.1)" font-size="9.0" text-anchor="end" >0</text>
<text transform="translate(39 456.65) scale(1 1.1)" font-size="9.0" text-anchor="end" >120</text>
<text transform="translate(39 483.75) scale(1 1.1)" font-size="9.0" text-anchor="end" >80</text>
<text transform="translate(39 510.95) scale(1 1.1)" font-size="9.0" text-anchor="end" >40</text>
<text transform="translate(39 538.05) scale(1 1.1)" font-size="9.0" text-anchor="end" >0</text>
<text transform="translate(294.2 350.3) scale(1 1.1)" font-size="9.0" text-anchor="start" >500</text>
<text transform="translate(294.2 367.4) scale(1 1.1)" font-size="9.0" text-anchor="start" >400</text>
<text transform="translate(294.2 384.2) scale(1 1.1)" font-size="9.0" text-anchor="start" >300</text>
<text transform="translate(294.2 401.4) scale(1 1.1)" font-size="9.0" text-anchor="start" >200</text>
<text transform="translate(294.2 418.4) scale(1 1.1)" font-size="9.0" text-anchor="start" >100</text>
<text transform="translate(294.2 435.5) scale(1 1.1)" font-size="9.0" text-anchor="start" >0</text>
<text transform="translate(294.2 459) scale(1 1.1)" font-size="9.0" text-anchor="start" >400</text>
<text transform="translate(294.2 478.9) scale(1 1.1)" font-size="9.0" text-anchor="start" >300</text>
<text transform="translate(294.2 498.7) scale(1 1.1)" font-size="9.0" text-anchor="start" >200</text>
<text transform="translate(294.2 518.3) scale(1 1.1)" font-size="9.0" text-anchor="start" >100</text>
<text transform="translate(294.2 538.1) scale(1 1.1)" font-size="9.0" text-anchor="start" >0</text>
<text x="49.45" y="561.9" font-size="7.3" text-anchor="middle" >2</text>
<text x="175.45" y="561.9" font-size="7.3" text-anchor="middle" >2</text>
<text x="67.49" y="561.9" font-size="7.3" text-anchor="middle" >4</text>
<text x="193.51" y="561.9" font-size="7.3" text-anchor="middle" >4</text>
<text x="85.53" y="561.9" font-size="7.3" text-anchor="middle" >6</text>
<text x="211.57" y="561.9" font-size="7.3" text-anchor="middle" >6</text>
<text x="103.57" y="561.9" font-size="7.3" text-anchor="middle" >8</text>
<text x="229.63" y="561.9" font-size="7.3" text-anchor="middle" >8</text>
<text x="121.61" y="561.9" font-size="7.3" text-anchor="middle" >10</text>
<text x="247.69" y="561.9" font-size="7.3" text-anchor="middle" >10</text>
<text x="139.65" y="561.9" font-size="7.3" text-anchor="middle" >12</text>
<text x="265.75" y="561.9" font-size="7.3" text-anchor="middle" >12</text>
<text x="157.69" y="561.9" font-size="7.3" text-anchor="middle" >14</text>
<text x="283.81" y="561.9" font-size="7.3" text-anchor="middle" >14</text>
<text x="101.3" y="575.5" font-size="11" text-anchor="middle" >E (meV)</text>
<text x="227.3" y="575.7" font-size="11" text-anchor="middle" >E (meV)</text>
<text transform="translate(21.1 435.2) rotate(-90)" font-size="11.4">S</text>
<text transform="translate(21.1 428.25) rotate(-90)" font-size="11.4">(Q,</text>
<text transform="translate(21.5 409.1) rotate(-90)" font-size="10.5" class="sy">ω</text>
<text transform="translate(21.1 400.55) rotate(-90)" font-size="11.4">)</text>
<text transform="translate(21.1 394.1) rotate(-90)" font-size="11.4">/</text>
<text transform="translate(21.1 387.6) rotate(-90)" font-size="11.3">10mins</text>
<text transform="translate(18.3 539.5) rotate(-90)" font-size="11.0" class="sy">χ</text>
<text transform="translate(18.3 534.2) rotate(-90)" font-size="12.5">&quot;</text>
<text transform="translate(18.3 524.8) rotate(-90)" font-size="11.8">(Q,</text>
<text transform="translate(18.7 505) rotate(-90)" font-size="10.5" class="sy">ω</text>
<text transform="translate(18.3 496.9) rotate(-90)" font-size="11.6">)</text>
<text transform="translate(18.3 491.1) rotate(-90)" font-size="11.8">(a.u.)</text>
<text transform="translate(322.2 438.7) rotate(-90)" font-size="11.4">S</text>
<text transform="translate(322.2 431.75) rotate(-90)" font-size="11.4">(Q,</text>
<text transform="translate(322.6 412.6) rotate(-90)" font-size="10.5" class="sy">ω</text>
<text transform="translate(322.2 404.05) rotate(-90)" font-size="11.4">)</text>
<text transform="translate(322.2 397.6) rotate(-90)" font-size="11.4">/</text>
<text transform="translate(322.2 391.1) rotate(-90)" font-size="11.3">10mins</text>
<text transform="translate(322.1 541.5) rotate(-90)" font-size="11.0" class="sy">χ</text>
<text transform="translate(322.1 536.2) rotate(-90)" font-size="12.5">&quot;</text>
<text transform="translate(322.1 526.8) rotate(-90)" font-size="11.8">(Q,</text>
<text transform="translate(322.5 507) rotate(-90)" font-size="10.5" class="sy">ω</text>
<text transform="translate(322.1 498.9) rotate(-90)" font-size="11.6">)</text>
<text transform="translate(322.1 493.1) rotate(-90)" font-size="11.8">(a.u.)</text>
<text transform="translate(344.6 493.6) rotate(-90)" font-size="14.2" class="sy">χ</text>
<text transform="translate(344.6 487.2) rotate(-90)" font-size="14.2">&quot;</text>
<text transform="translate(344.6 476.6) rotate(-90)" font-size="14.2">(Q,</text>
<text transform="translate(344.6 452.9) rotate(-90)" font-size="13" class="sy">ω</text>
<text transform="translate(344.6 443.8) rotate(-90)" font-size="14.2">)</text>
<text transform="translate(344.6 435.4) rotate(-90)" font-size="14.3">(a.u.)</text>
<text x="44.3" y="348.2" font-size="9.6" text-anchor="start" >(a)</text>
<text x="108.3" y="348.9" font-size="9.35" text-anchor="start" >Q=(0, -1, 0)</text>
<text x="43.8" y="457.4" font-size="9.6" text-anchor="start" >(c)</text>
<text x="105.8" y="459.3" font-size="9.35" text-anchor="start" >Q=(0, -1, 0)</text>
<text x="169.9" y="350.4" font-size="9.6" text-anchor="start" >(b)</text>
<text x="237.7" y="348.9" font-size="9.05" text-anchor="start" >Q=(1, 0, 1)</text>
<text x="170.3" y="457.8" font-size="9.6" text-anchor="start" >(d)</text>
<text x="226.2" y="457.8" font-size="9.05" text-anchor="start" >Q=(1, 0, 1)</text>
<text x="176" y="365.6" font-size="10.2" text-anchor="start" >T<tspan font-size="5.6" dy="3.7">N</tspan><tspan dy="-3.7">=107K</tspan></text>
<text x="176" y="380.9" font-size="10.2" text-anchor="start" >NSC</text>
<text x="251.6" y="532.1" font-size="12.0" text-anchor="start" >x=0.03</text>
<rect x="48.9" y="462" width="6" height="6" fill="#000"/>
<circle cx="51.9" cy="476.4" r="3.4" fill="#ff0000"/>
<path d="M51.9 483.8L56 487.9L51.9 492L47.8 487.9Z" fill="#0000ff"/>
<text x="63" y="467.9" font-size="8.95" text-anchor="start" >3K</text>
<text x="63" y="479.2" font-size="8.95" text-anchor="start" >80K</text>
<text x="63" y="490.6" font-size="8.95" text-anchor="start" >120K</text>
<rect x="177.3" y="463.6" width="6" height="6" fill="#000"/>
<circle cx="180.3" cy="478.1" r="3.5" fill="#ff0000"/>
<path d="M180.3 485.2L184.5 489.4L180.3 493.6L176.1 489.4Z" fill="#0000ff"/>
<text x="191.1" y="469.2" font-size="8.95" text-anchor="start" >3K</text>
<text x="191.1" y="480.6" font-size="8.95" text-anchor="start" >80K</text>
<text x="191.1" y="492.1" font-size="8.95" text-anchor="start" >120K</text>
<path d="M137.6 554.6V543.8" stroke="#000" stroke-width="1.5" fill="none"/>
<path d="M137.6 537.8L139.9 544.8L135.3 544.8Z" fill="#000"/>
<path d="M211.7 554.6V543.2" stroke="#000" stroke-width="1.5" fill="none"/>
<path d="M211.7 537.2L214 544.2L209.4 544.2Z" fill="#000"/>
<text x="93.2" y="550.9" font-size="10.0" text-anchor="start" ><tspan class="sy" font-size="10.6">Δ</tspan>(0,-1,0)</text>
<text x="216" y="550.9" font-size="10.0" text-anchor="start" ><tspan class="sy" font-size="10.6">Δ</tspan>(1,0,1)</text>
<clipPath id="ce"><rect x="372.3" y="344.5" width="135.39999999999998" height="101.80000000000001"/></clipPath>
<clipPath id="cf"><rect x="372.3" y="446.3" width="135.39999999999998" height="102.19999999999999"/></clipPath>
<g clip-path="url(#ce)">
<path d="M379.6 436.4V438.6M378.6 436.4H380.6M378.6 438.6H380.6" stroke="#000" stroke-width="1.0" fill="none"/>
<rect x="377.3" y="435.2" width="4.6" height="4.6" fill="#000"/>
<path d="M385.8 435.89V438.11M384.8 435.89H386.8M384.8 438.11H386.8" stroke="#000" stroke-width="1.0" fill="none"/>
<rect x="383.5" y="434.7" width="4.6" height="4.6" fill="#000"/>
<path d="M392 436.5V438.7M391 436.5H393M391 438.7H393" stroke="#000" stroke-width="1.0" fill="none"/>
<rect x="389.7" y="435.3" width="4.6" height="4.6" fill="#000"/>
<path d="M397.9 437.3V439.5M396.9 437.3H398.9M396.9 439.5H398.9" stroke="#000" stroke-width="1.0" fill="none"/>
<rect x="395.6" y="436.1" width="4.6" height="4.6" fill="#000"/>
<path d="M403.9 436.7V438.9M402.9 436.7H404.9M402.9 438.9H404.9" stroke="#000" stroke-width="1.0" fill="none"/>
<rect x="401.6" y="435.5" width="4.6" height="4.6" fill="#000"/>
<path d="M409.8 436.2V438.4M408.8 436.2H410.8M408.8 438.4H410.8" stroke="#000" stroke-width="1.0" fill="none"/>
<rect x="407.5" y="435" width="4.6" height="4.6" fill="#000"/>
<path d="M416 435.36V437.64M415 435.36H417M415 437.64H417" stroke="#000" stroke-width="1.0" fill="none"/>
<rect x="413.7" y="434.2" width="4.6" height="4.6" fill="#000"/>
<path d="M421.9 432.94V435.46M420.9 432.94H422.9M420.9 435.46H422.9" stroke="#000" stroke-width="1.0" fill="none"/>
<rect x="419.6" y="431.9" width="4.6" height="4.6" fill="#000"/>
<path d="M424.9 428.85V431.75M423.9 428.85H425.9M423.9 431.75H425.9" stroke="#000" stroke-width="1.0" fill="none"/>
<rect x="422.6" y="428" width="4.6" height="4.6" fill="#000"/>
<path d="M428.6 420.32V423.88M427.6 420.32H429.6M427.6 423.88H429.6" stroke="#000" stroke-width="1.0" fill="none"/>
<rect x="426.3" y="419.8" width="4.6" height="4.6" fill="#000"/>
<path d="M431 407.3V411.7M430 407.3H432M430 411.7H432" stroke="#000" stroke-width="1.0" fill="none"/>
<rect x="428.7" y="407.2" width="4.6" height="4.6" fill="#000"/>
<path d="M434.1 399.69V404.51M433.1 399.69H435.1M433.1 404.51H435.1" stroke="#000" stroke-width="1.0" fill="none"/>
<rect x="431.8" y="399.8" width="4.6" height="4.6" fill="#000"/>
<path d="M436.9 392.41V397.59M435.9 392.41H437.9M435.9 397.59H437.9" stroke="#000" stroke-width="1.0" fill="none"/>
<rect x="434.6" y="392.7" width="4.6" height="4.6" fill="#000"/>
<path d="M440 391.18V396.42M439 391.18H441M439 396.42H441" stroke="#000" stroke-width="1.0" fill="none"/>
<rect x="437.7" y="391.5" width="4.6" height="4.6" fill="#000"/>
<path d="M443.1 389.64V394.96M442.1 389.64H444.1M442.1 394.96H444.1" stroke="#000" stroke-width="1.0" fill="none"/>
<rect x="440.8" y="390" width="4.6" height="4.6" fill="#000"/>
<path d="M446.3 400.51V405.29M445.3 400.51H447.3M445.3 405.29H447.3" stroke="#000" stroke-width="1.0" fill="none"/>
<rect x="444" y="400.6" width="4.6" height="4.6" fill="#000"/>
<path d="M448.6 411.01V415.19M447.6 411.01H449.6M447.6 415.19H449.6" stroke="#000" stroke-width="1.0" fill="none"/>
<rect x="446.3" y="410.8" width="4.6" height="4.6" fill="#000"/>
<path d="M451.8 418.24V421.96M450.8 418.24H452.8M450.8 421.96H452.8" stroke="#000" stroke-width="1.0" fill="none"/>
<rect x="449.5" y="417.8" width="4.6" height="4.6" fill="#000"/>
<path d="M454.4 423.74V427.06M453.4 423.74H455.4M453.4 427.06H455.4" stroke="#000" stroke-width="1.0" fill="none"/>
<rect x="452.1" y="423.1" width="4.6" height="4.6" fill="#000"/>
<path d="M457.8 430.94V433.66M456.8 430.94H458.8M456.8 433.66H458.8" stroke="#000" stroke-width="1.0" fill="none"/>
<rect x="455.5" y="430" width="4.6" height="4.6" fill="#000"/>
<path d="M464 434.83V437.17M463 434.83H465M463 437.17H465" stroke="#000" stroke-width="1.0" fill="none"/>
<rect x="461.7" y="433.7" width="4.6" height="4.6" fill="#000"/>
<path d="M470.2 435.89V438.11M469.2 435.89H471.2M469.2 438.11H471.2" stroke="#000" stroke-width="1.0" fill="none"/>
<rect x="467.9" y="434.7" width="4.6" height="4.6" fill="#000"/>
<path d="M476 436.9V439.1M475 436.9H477M475 439.1H477" stroke="#000" stroke-width="1.0" fill="none"/>
<rect x="473.7" y="435.7" width="4.6" height="4.6" fill="#000"/>
<path d="M481.9 438V440.2M480.9 438H482.9M480.9 440.2H482.9" stroke="#000" stroke-width="1.0" fill="none"/>
<rect x="479.6" y="436.8" width="4.6" height="4.6" fill="#000"/>
<path d="M488 433.04V435.56M487 433.04H489M487 435.56H489" stroke="#000" stroke-width="1.0" fill="none"/>
<rect x="485.7" y="432" width="4.6" height="4.6" fill="#000"/>
<path d="M494.2 438V440.2M493.2 438H495.2M493.2 440.2H495.2" stroke="#000" stroke-width="1.0" fill="none"/>
<rect x="491.9" y="436.8" width="4.6" height="4.6" fill="#000"/>
<path d="M500.1 436.9V439.1M499.1 436.9H501.1M499.1 439.1H501.1" stroke="#000" stroke-width="1.0" fill="none"/>
<rect x="497.8" y="435.7" width="4.6" height="4.6" fill="#000"/>
<path d="M379.8 437.1 L380.8 437.1 L381.8 437.1 L382.8 437.1 L383.8 437.1 L384.8 437.1 L385.8 437.1 L386.8 437.1 L387.8 437.1 L388.8 437.1 L389.8 437.1 L390.8 437.1 L391.8 437.1 L392.8 437.1 L393.8 437.1 L394.8 437.1 L395.8 437.1 L396.8 437.1 L397.8 437.1 L398.8 437.1 L399.8 437.1 L400.8 437.1 L401.8 437.09 L402.8 437.09 L403.8 437.09 L404.8 437.08 L405.8 437.07 L406.8 437.05 L407.8 437.03 L408.8 436.99 L409.8 436.94 L410.8 436.88 L411.8 436.78 L412.8 436.65 L413.8 436.47 L414.8 436.24 L415.8 435.93 L416.8 435.53 L417.8 435.03 L418.8 434.39 L419.8 433.6 L420.8 432.64 L421.8 431.48 L422.8 430.11 L423.8 428.51 L424.8 426.67 L425.8 424.6 L426.8 422.3 L427.8 419.78 L428.8 417.09 L429.8 414.27 L430.8 411.36 L431.8 408.44 L432.8 405.59 L433.8 402.87 L434.8 400.37 L435.8 398.18 L436.8 396.36 L437.8 394.98 L438.8 394.08 L439.8 393.71 L440.8 393.87 L441.8 394.56 L442.8 395.75 L443.8 397.4 L444.8 399.45 L445.8 401.84 L446.8 404.48 L447.8 407.29 L448.8 410.19 L449.8 413.11 L450.8 415.97 L451.8 418.73 L452.8 421.31 L453.8 423.7 L454.8 425.87 L455.8 427.81 L456.8 429.5 L457.8 430.96 L458.8 432.2 L459.8 433.24 L460.8 434.1 L461.8 434.79 L462.8 435.35 L463.8 435.78 L464.8 436.13 L465.8 436.39 L466.8 436.58 L467.8 436.73 L468.8 436.84 L469.8 436.92 L470.8 436.98 L471.8 437.02 L472.8 437.04 L473.8 437.06 L474.8 437.08 L475.8 437.08 L476.8 437.09 L477.8 437.09 L478.8 437.1 L479.8 437.1 L480.8 437.1 L481.8 437.1 L482.8 437.1 L483.8 437.1 L484.8 437.1 L485.8 437.1 L486.8 437.1 L487.8 437.1 L488.8 437.1 L489.8 437.1 L490.8 437.1 L491.8 437.1 L492.8 437.1 L493.8 437.1 L494.8 437.1 L495.8 437.1 L496.8 437.1 L497.8 437.1 L498.8 437.1 L499.8 437.1" fill="none" stroke="#000" stroke-width="1.4" stroke-linejoin="round"/>
<path d="M379.6 437.7V439.9M378.6 437.7H380.6M378.6 439.9H380.6" stroke="#ff0000" stroke-width="1.0" fill="none"/>
<circle cx="379.6" cy="438.8" r="2.75" fill="#ff0000"/>
<path d="M385.8 438.1V440.3M384.8 438.1H386.8M384.8 440.3H386.8" stroke="#ff0000" stroke-width="1.0" fill="none"/>
<circle cx="385.8" cy="439.2" r="2.75" fill="#ff0000"/>
<path d="M392 437.7V439.9M391 437.7H393M391 439.9H393" stroke="#ff0000" stroke-width="1.0" fill="none"/>
<circle cx="392" cy="438.8" r="2.75" fill="#ff0000"/>
<path d="M397.9 436.4V438.6M396.9 436.4H398.9M396.9 438.6H398.9" stroke="#ff0000" stroke-width="1.0" fill="none"/>
<circle cx="397.9" cy="437.5" r="2.75" fill="#ff0000"/>
<path d="M403.9 435.36V437.64M402.9 435.36H404.9M402.9 437.64H404.9" stroke="#ff0000" stroke-width="1.0" fill="none"/>
<circle cx="403.9" cy="436.5" r="2.75" fill="#ff0000"/>
<path d="M409.8 431.68V434.32M408.8 431.68H410.8M408.8 434.32H410.8" stroke="#ff0000" stroke-width="1.0" fill="none"/>
<circle cx="409.8" cy="433" r="2.75" fill="#ff0000"/>
<path d="M415.9 432.94V435.46M414.9 432.94H416.9M414.9 435.46H416.9" stroke="#ff0000" stroke-width="1.0" fill="none"/>
<circle cx="415.9" cy="434.2" r="2.75" fill="#ff0000"/>
<path d="M421.9 431.36V434.04M420.9 431.36H422.9M420.9 434.04H422.9" stroke="#ff0000" stroke-width="1.0" fill="none"/>
<circle cx="421.9" cy="432.7" r="2.75" fill="#ff0000"/>
<path d="M424.9 417.31V421.09M423.9 417.31H425.9M423.9 421.09H425.9" stroke="#ff0000" stroke-width="1.0" fill="none"/>
<circle cx="424.9" cy="419.2" r="2.75" fill="#ff0000"/>
<path d="M427.9 408.33V412.67M426.9 408.33H428.9M426.9 412.67H428.9" stroke="#ff0000" stroke-width="1.0" fill="none"/>
<circle cx="427.9" cy="410.5" r="2.75" fill="#ff0000"/>
<path d="M430.9 394.87V399.93M429.9 394.87H431.9M429.9 399.93H431.9" stroke="#ff0000" stroke-width="1.0" fill="none"/>
<circle cx="430.9" cy="397.4" r="2.75" fill="#ff0000"/>
<path d="M433.9 378.28V384.12M432.9 378.28H434.9M432.9 384.12H434.9" stroke="#ff0000" stroke-width="1.0" fill="none"/>
<circle cx="433.9" cy="381.2" r="2.75" fill="#ff0000"/>
<path d="M437.1 362.04V368.56M436.1 362.04H438.1M436.1 368.56H438.1" stroke="#ff0000" stroke-width="1.0" fill="none"/>
<circle cx="437.1" cy="365.3" r="2.75" fill="#ff0000"/>
<path d="M440 360.82V367.38M439 360.82H441M439 367.38H441" stroke="#ff0000" stroke-width="1.0" fill="none"/>
<circle cx="440" cy="364.1" r="2.75" fill="#ff0000"/>
<path d="M442.9 366.22V372.58M441.9 366.22H443.9M441.9 372.58H443.9" stroke="#ff0000" stroke-width="1.0" fill="none"/>
<circle cx="442.9" cy="369.4" r="2.75" fill="#ff0000"/>
<path d="M445.9 369.8V376M444.9 369.8H446.9M444.9 376H446.9" stroke="#ff0000" stroke-width="1.0" fill="none"/>
<circle cx="445.9" cy="372.9" r="2.75" fill="#ff0000"/>
<path d="M448.8 387.9V393.3M447.8 387.9H449.8M447.8 393.3H449.8" stroke="#ff0000" stroke-width="1.0" fill="none"/>
<circle cx="448.8" cy="390.6" r="2.75" fill="#ff0000"/>
<path d="M451.8 403.91V408.49M450.8 403.91H452.8M450.8 408.49H452.8" stroke="#ff0000" stroke-width="1.0" fill="none"/>
<circle cx="451.8" cy="406.2" r="2.75" fill="#ff0000"/>
<path d="M455.4 411.63V415.77M454.4 411.63H456.4M454.4 415.77H456.4" stroke="#ff0000" stroke-width="1.0" fill="none"/>
<circle cx="455.4" cy="413.7" r="2.75" fill="#ff0000"/>
<path d="M458.5 424.78V428.02M457.5 424.78H459.5M457.5 428.02H459.5" stroke="#ff0000" stroke-width="1.0" fill="none"/>
<circle cx="458.5" cy="426.4" r="2.75" fill="#ff0000"/>
<path d="M464 428.01V430.99M463 428.01H465M463 430.99H465" stroke="#ff0000" stroke-width="1.0" fill="none"/>
<circle cx="464" cy="429.5" r="2.75" fill="#ff0000"/>
<path d="M470.2 433.78V436.22M469.2 433.78H471.2M469.2 436.22H471.2" stroke="#ff0000" stroke-width="1.0" fill="none"/>
<circle cx="470.2" cy="435" r="2.75" fill="#ff0000"/>
<path d="M476 435.04V437.36M475 435.04H477M475 437.36H477" stroke="#ff0000" stroke-width="1.0" fill="none"/>
<circle cx="476" cy="436.2" r="2.75" fill="#ff0000"/>
<path d="M481.9 435.36V437.64M480.9 435.36H482.9M480.9 437.64H482.9" stroke="#ff0000" stroke-width="1.0" fill="none"/>
<circle cx="481.9" cy="436.5" r="2.75" fill="#ff0000"/>
<path d="M488 436.2V438.4M487 436.2H489M487 438.4H489" stroke="#ff0000" stroke-width="1.0" fill="none"/>
<circle cx="488" cy="437.3" r="2.75" fill="#ff0000"/>
<path d="M494.2 438V440.2M493.2 438H495.2M493.2 440.2H495.2" stroke="#ff0000" stroke-width="1.0" fill="none"/>
<circle cx="494.2" cy="439.1" r="2.75" fill="#ff0000"/>
<path d="M500.1 437.6V439.8M499.1 437.6H501.1M499.1 439.8H501.1" stroke="#ff0000" stroke-width="1.0" fill="none"/>
<circle cx="500.1" cy="438.7" r="2.75" fill="#ff0000"/>
<path d="M379.8 436.94 L380.8 436.94 L381.8 436.94 L382.8 436.94 L383.8 436.94 L384.8 436.94 L385.8 436.94 L386.8 436.94 L387.8 436.94 L388.8 436.94 L389.8 436.94 L390.8 436.94 L391.8 436.94 L392.8 436.94 L393.8 436.94 L394.8 436.94 L395.8 436.94 L396.8 436.94 L397.8 436.94 L398.8 436.94 L399.8 436.94 L400.8 436.94 L401.8 436.94 L402.8 436.94 L403.8 436.93 L404.8 436.93 L405.8 436.92 L406.8 436.9 L407.8 436.88 L408.8 436.84 L409.8 436.79 L410.8 436.71 L411.8 436.6 L412.8 436.45 L413.8 436.23 L414.8 435.94 L415.8 435.55 L416.8 435.02 L417.8 434.34 L418.8 433.46 L419.8 432.35 L420.8 430.96 L421.8 429.25 L422.8 427.19 L423.8 424.73 L424.8 421.86 L425.8 418.55 L426.8 414.81 L427.8 410.66 L428.8 406.15 L429.8 401.33 L430.8 396.3 L431.8 391.17 L432.8 386.06 L433.8 381.13 L434.8 376.53 L435.8 372.4 L436.8 368.9 L437.8 366.15 L438.8 364.25 L439.8 363.29 L440.8 363.29 L441.8 364.25 L442.8 366.15 L443.8 368.9 L444.8 372.4 L445.8 376.53 L446.8 381.13 L447.8 386.06 L448.8 391.17 L449.8 396.3 L450.8 401.33 L451.8 406.15 L452.8 410.66 L453.8 414.81 L454.8 418.55 L455.8 421.86 L456.8 424.73 L457.8 427.19 L458.8 429.25 L459.8 430.96 L460.8 432.35 L461.8 433.46 L462.8 434.34 L463.8 435.02 L464.8 435.55 L465.8 435.94 L466.8 436.23 L467.8 436.45 L468.8 436.6 L469.8 436.71 L470.8 436.79 L471.8 436.84 L472.8 436.88 L473.8 436.9 L474.8 436.92 L475.8 436.93 L476.8 436.93 L477.8 436.94 L478.8 436.94 L479.8 436.94 L480.8 436.94 L481.8 436.94 L482.8 436.94 L483.8 436.94 L484.8 436.94 L485.8 436.94 L486.8 436.94 L487.8 436.94 L488.8 436.94 L489.8 436.94 L490.8 436.94 L491.8 436.94 L492.8 436.94 L493.8 436.94 L494.8 436.94 L495.8 436.94 L496.8 436.94 L497.8 436.94 L498.8 436.94 L499.8 436.94" fill="none" stroke="#ff0000" stroke-width="1.4" stroke-linejoin="round"/>
<path d="M379.6 436.4V438.6M378.6 436.4H380.6M378.6 438.6H380.6" stroke="#0000ff" stroke-width="1.0" fill="none"/>
<path d="M379.6 434.1L382.7 437.5L379.6 440.9L376.5 437.5Z" fill="#0000ff"/>
<path d="M385.8 437.2V439.4M384.8 437.2H386.8M384.8 439.4H386.8" stroke="#0000ff" stroke-width="1.0" fill="none"/>
<path d="M385.8 434.9L388.9 438.3L385.8 441.7L382.7 438.3Z" fill="#0000ff"/>
<path d="M392 435.47V437.73M391 435.47H393M391 437.73H393" stroke="#0000ff" stroke-width="1.0" fill="none"/>
<path d="M392 433.2L395.1 436.6L392 440L388.9 436.6Z" fill="#0000ff"/>
<path d="M397.9 435.47V437.73M396.9 435.47H398.9M396.9 437.73H398.9" stroke="#0000ff" stroke-width="1.0" fill="none"/>
<path d="M397.9 433.2L401 436.6L397.9 440L394.8 436.6Z" fill="#0000ff"/>
<path d="M403.9 432.31V434.89M402.9 432.31H404.9M402.9 434.89H404.9" stroke="#0000ff" stroke-width="1.0" fill="none"/>
<path d="M403.9 430.2L407 433.6L403.9 437L400.8 433.6Z" fill="#0000ff"/>
<path d="M409.8 429.89V432.71M408.8 429.89H410.8M408.8 432.71H410.8" stroke="#0000ff" stroke-width="1.0" fill="none"/>
<path d="M409.8 427.9L412.9 431.3L409.8 434.7L406.7 431.3Z" fill="#0000ff"/>
<path d="M416 426.97V430.03M415 426.97H417M415 430.03H417" stroke="#0000ff" stroke-width="1.0" fill="none"/>
<path d="M416 425.1L419.1 428.5L416 431.9L412.9 428.5Z" fill="#0000ff"/>
<path d="M421.9 423.01V426.39M420.9 423.01H422.9M420.9 426.39H422.9" stroke="#0000ff" stroke-width="1.0" fill="none"/>
<path d="M421.9 421.3L425 424.7L421.9 428.1L418.8 424.7Z" fill="#0000ff"/>
<path d="M427.6 411.94V416.06M426.6 411.94H428.6M426.6 416.06H428.6" stroke="#0000ff" stroke-width="1.0" fill="none"/>
<path d="M427.6 410.6L430.7 414L427.6 417.4L424.5 414Z" fill="#0000ff"/>
<path d="M433.8 407.1V411.5M432.8 407.1H434.8M432.8 411.5H434.8" stroke="#0000ff" stroke-width="1.0" fill="none"/>
<path d="M433.8 405.9L436.9 409.3L433.8 412.7L430.7 409.3Z" fill="#0000ff"/>
<path d="M439.6 402.05V406.75M438.6 402.05H440.6M438.6 406.75H440.6" stroke="#0000ff" stroke-width="1.0" fill="none"/>
<path d="M439.6 401L442.7 404.4L439.6 407.8L436.5 404.4Z" fill="#0000ff"/>
<path d="M445.9 403.29V407.91M444.9 403.29H446.9M444.9 407.91H446.9" stroke="#0000ff" stroke-width="1.0" fill="none"/>
<path d="M445.9 402.2L449 405.6L445.9 409L442.8 405.6Z" fill="#0000ff"/>
<path d="M452 410.08V414.32M451 410.08H453M451 414.32H453" stroke="#0000ff" stroke-width="1.0" fill="none"/>
<path d="M452 408.8L455.1 412.2L452 415.6L448.9 412.2Z" fill="#0000ff"/>
<path d="M457.8 418.45V422.15M456.8 418.45H458.8M456.8 422.15H458.8" stroke="#0000ff" stroke-width="1.0" fill="none"/>
<path d="M457.8 416.9L460.9 420.3L457.8 423.7L454.7 420.3Z" fill="#0000ff"/>
<path d="M464 425.2V428.4M463 425.2H465M463 428.4H465" stroke="#0000ff" stroke-width="1.0" fill="none"/>
<path d="M464 423.4L467.1 426.8L464 430.2L460.9 426.8Z" fill="#0000ff"/>
<path d="M470.2 430.94V433.66M469.2 430.94H471.2M469.2 433.66H471.2" stroke="#0000ff" stroke-width="1.0" fill="none"/>
<path d="M470.2 428.9L473.3 432.3L470.2 435.7L467.1 432.3Z" fill="#0000ff"/>
<path d="M476 429.48V432.32M475 429.48H477M475 432.32H477" stroke="#0000ff" stroke-width="1.0" fill="none"/>
<path d="M476 427.5L479.1 430.9L476 434.3L472.9 430.9Z" fill="#0000ff"/>
<path d="M481.9 434.83V437.17M480.9 434.83H482.9M480.9 437.17H482.9" stroke="#0000ff" stroke-width="1.0" fill="none"/>
<path d="M481.9 432.6L485 436L481.9 439.4L478.8 436Z" fill="#0000ff"/>
<path d="M488 438V440.2M487 438H489M487 440.2H489" stroke="#0000ff" stroke-width="1.0" fill="none"/>
<path d="M488 435.7L491.1 439.1L488 442.5L484.9 439.1Z" fill="#0000ff"/>
<path d="M494.2 434.83V437.17M493.2 434.83H495.2M493.2 437.17H495.2" stroke="#0000ff" stroke-width="1.0" fill="none"/>
<path d="M494.2 432.6L497.3 436L494.2 439.4L491.1 436Z" fill="#0000ff"/>
<path d="M500.1 436V438.2M499.1 436H501.1M499.1 438.2H501.1" stroke="#0000ff" stroke-width="1.0" fill="none"/>
<path d="M500.1 433.7L503.2 437.1L500.1 440.5L497 437.1Z" fill="#0000ff"/>
<path d="M379.8 436.78 L380.8 436.78 L381.8 436.78 L382.8 436.78 L383.8 436.77 L384.8 436.77 L385.8 436.76 L386.8 436.75 L387.8 436.74 L388.8 436.73 L389.8 436.71 L390.8 436.69 L391.8 436.66 L392.8 436.63 L393.8 436.59 L394.8 436.54 L395.8 436.48 L396.8 436.41 L397.8 436.32 L398.8 436.22 L399.8 436.1 L400.8 435.96 L401.8 435.79 L402.8 435.59 L403.8 435.36 L404.8 435.1 L405.8 434.79 L406.8 434.45 L407.8 434.05 L408.8 433.61 L409.8 433.11 L410.8 432.55 L411.8 431.93 L412.8 431.24 L413.8 430.49 L414.8 429.67 L415.8 428.78 L416.8 427.83 L417.8 426.8 L418.8 425.72 L419.8 424.57 L420.8 423.37 L421.8 422.12 L422.8 420.84 L423.8 419.52 L424.8 418.18 L425.8 416.83 L426.8 415.49 L427.8 414.16 L428.8 412.87 L429.8 411.62 L430.8 410.43 L431.8 409.31 L432.8 408.29 L433.8 407.37 L434.8 406.56 L435.8 405.87 L436.8 405.33 L437.8 404.92 L438.8 404.66 L439.8 404.55 L440.8 404.6 L441.8 404.8 L442.8 405.15 L443.8 405.64 L444.8 406.27 L445.8 407.03 L446.8 407.91 L447.8 408.89 L448.8 409.97 L449.8 411.13 L450.8 412.36 L451.8 413.64 L452.8 414.95 L453.8 416.29 L454.8 417.64 L455.8 418.98 L456.8 420.31 L457.8 421.61 L458.8 422.88 L459.8 424.1 L460.8 425.27 L461.8 426.38 L462.8 427.43 L463.8 428.41 L464.8 429.32 L465.8 430.17 L466.8 430.95 L467.8 431.66 L468.8 432.31 L469.8 432.89 L470.8 433.41 L471.8 433.88 L472.8 434.29 L473.8 434.66 L474.8 434.98 L475.8 435.26 L476.8 435.5 L477.8 435.71 L478.8 435.89 L479.8 436.04 L480.8 436.17 L481.8 436.28 L482.8 436.38 L483.8 436.45 L484.8 436.52 L485.8 436.57 L486.8 436.61 L487.8 436.65 L488.8 436.68 L489.8 436.7 L490.8 436.72 L491.8 436.74 L492.8 436.75 L493.8 436.76 L494.8 436.76 L495.8 436.77 L496.8 436.77 L497.8 436.78 L498.8 436.78 L499.8 436.78" fill="none" stroke="#0000ff" stroke-width="1.4" stroke-linejoin="round"/>
</g>
<g clip-path="url(#cf)">
<path d="M380 538.33V540.67M379 538.33H381M379 540.67H381" stroke="#000" stroke-width="1.0" fill="none"/>
<rect x="377.7" y="537.2" width="4.6" height="4.6" fill="#000"/>
<path d="M386 536.77V539.23M385 536.77H387M385 539.23H387" stroke="#000" stroke-width="1.0" fill="none"/>
<rect x="383.7" y="535.7" width="4.6" height="4.6" fill="#000"/>
<path d="M392 538.33V540.67M391 538.33H393M391 540.67H393" stroke="#000" stroke-width="1.0" fill="none"/>
<rect x="389.7" y="537.2" width="4.6" height="4.6" fill="#000"/>
<path d="M398 536.77V539.23M397 536.77H399M397 539.23H399" stroke="#000" stroke-width="1.0" fill="none"/>
<rect x="395.7" y="535.7" width="4.6" height="4.6" fill="#000"/>
<path d="M404 538.63V540.97M403 538.63H405M403 540.97H405" stroke="#000" stroke-width="1.0" fill="none"/>
<rect x="401.7" y="537.5" width="4.6" height="4.6" fill="#000"/>
<path d="M410 537.3V539.7M409 537.3H411M409 539.7H411" stroke="#000" stroke-width="1.0" fill="none"/>
<rect x="407.7" y="536.2" width="4.6" height="4.6" fill="#000"/>
<path d="M416 535.72V538.28M415 535.72H417M415 538.28H417" stroke="#000" stroke-width="1.0" fill="none"/>
<rect x="413.7" y="534.7" width="4.6" height="4.6" fill="#000"/>
<path d="M422 536.77V539.23M421 536.77H423M421 539.23H423" stroke="#000" stroke-width="1.0" fill="none"/>
<rect x="419.7" y="535.7" width="4.6" height="4.6" fill="#000"/>
<path d="M425 534.67V537.33M424 534.67H426M424 537.33H426" stroke="#000" stroke-width="1.0" fill="none"/>
<rect x="422.7" y="533.7" width="4.6" height="4.6" fill="#000"/>
<path d="M428.7 530.47V533.53M427.7 530.47H429.7M427.7 533.53H429.7" stroke="#000" stroke-width="1.0" fill="none"/>
<rect x="426.4" y="529.7" width="4.6" height="4.6" fill="#000"/>
<path d="M431.7 523.39V527.01M430.7 523.39H432.7M430.7 527.01H432.7" stroke="#000" stroke-width="1.0" fill="none"/>
<rect x="429.4" y="522.9" width="4.6" height="4.6" fill="#000"/>
<path d="M434.1 506.13V510.87M433.1 506.13H435.1M433.1 510.87H435.1" stroke="#000" stroke-width="1.0" fill="none"/>
<rect x="431.8" y="506.2" width="4.6" height="4.6" fill="#000"/>
<path d="M437.1 491.55V497.05M436.1 491.55H438.1M436.1 497.05H438.1" stroke="#000" stroke-width="1.0" fill="none"/>
<rect x="434.8" y="492" width="4.6" height="4.6" fill="#000"/>
<path d="M440 489.09V494.71M439 489.09H441M439 494.71H441" stroke="#000" stroke-width="1.0" fill="none"/>
<rect x="437.7" y="489.6" width="4.6" height="4.6" fill="#000"/>
<path d="M442.9 498.63V503.77M441.9 498.63H443.9M441.9 503.77H443.9" stroke="#000" stroke-width="1.0" fill="none"/>
<rect x="440.6" y="498.9" width="4.6" height="4.6" fill="#000"/>
<path d="M445.4 518.31V522.29M444.4 518.31H446.4M444.4 522.29H446.4" stroke="#000" stroke-width="1.0" fill="none"/>
<rect x="443.1" y="518" width="4.6" height="4.6" fill="#000"/>
<path d="M448.3 525.88V529.32M447.3 525.88H449.3M447.3 529.32H449.3" stroke="#000" stroke-width="1.0" fill="none"/>
<rect x="446" y="525.3" width="4.6" height="4.6" fill="#000"/>
<path d="M451.5 532.57V535.43M450.5 532.57H452.5M450.5 535.43H452.5" stroke="#000" stroke-width="1.0" fill="none"/>
<rect x="449.2" y="531.7" width="4.6" height="4.6" fill="#000"/>
<path d="M454.5 535.72V538.28M453.5 535.72H455.5M453.5 538.28H455.5" stroke="#000" stroke-width="1.0" fill="none"/>
<rect x="452.2" y="534.7" width="4.6" height="4.6" fill="#000"/>
<path d="M458 538.33V540.67M457 538.33H459M457 540.67H459" stroke="#000" stroke-width="1.0" fill="none"/>
<rect x="455.7" y="537.2" width="4.6" height="4.6" fill="#000"/>
<path d="M464 537.3V539.7M463 537.3H465M463 539.7H465" stroke="#000" stroke-width="1.0" fill="none"/>
<rect x="461.7" y="536.2" width="4.6" height="4.6" fill="#000"/>
<path d="M470 538.83V541.17M469 538.83H471M469 541.17H471" stroke="#000" stroke-width="1.0" fill="none"/>
<rect x="467.7" y="537.7" width="4.6" height="4.6" fill="#000"/>
<path d="M476 540.33V542.67M475 540.33H477M475 542.67H477" stroke="#000" stroke-width="1.0" fill="none"/>
<rect x="473.7" y="539.2" width="4.6" height="4.6" fill="#000"/>
<path d="M482 537.83V540.17M481 537.83H483M481 540.17H483" stroke="#000" stroke-width="1.0" fill="none"/>
<rect x="479.7" y="536.7" width="4.6" height="4.6" fill="#000"/>
<path d="M488 536.25V538.75M487 536.25H489M487 538.75H489" stroke="#000" stroke-width="1.0" fill="none"/>
<rect x="485.7" y="535.2" width="4.6" height="4.6" fill="#000"/>
<path d="M494 537.83V540.17M493 537.83H495M493 540.17H495" stroke="#000" stroke-width="1.0" fill="none"/>
<rect x="491.7" y="536.7" width="4.6" height="4.6" fill="#000"/>
<path d="M500 538.83V541.17M499 538.83H501M499 541.17H501" stroke="#000" stroke-width="1.0" fill="none"/>
<rect x="497.7" y="537.7" width="4.6" height="4.6" fill="#000"/>
<path d="M379.8 538.9 L380.8 538.9 L381.8 538.9 L382.8 538.9 L383.8 538.9 L384.8 538.9 L385.8 538.9 L386.8 538.9 L387.8 538.9 L388.8 538.9 L389.8 538.9 L390.8 538.9 L391.8 538.9 L392.8 538.9 L393.8 538.9 L394.8 538.9 L395.8 538.9 L396.8 538.9 L397.8 538.9 L398.8 538.9 L399.8 538.9 L400.8 538.9 L401.8 538.9 L402.8 538.9 L403.8 538.9 L404.8 538.9 L405.8 538.9 L406.8 538.9 L407.8 538.9 L408.8 538.9 L409.8 538.9 L410.8 538.9 L411.8 538.9 L412.8 538.9 L413.8 538.9 L414.8 538.9 L415.8 538.9 L416.8 538.9 L417.8 538.89 L418.8 538.88 L419.8 538.86 L420.8 538.82 L421.8 538.74 L422.8 538.61 L423.8 538.38 L424.8 538.02 L425.8 537.44 L426.8 536.56 L427.8 535.28 L428.8 533.49 L429.8 531.1 L430.8 528.02 L431.8 524.23 L432.8 519.8 L433.8 514.87 L434.8 509.68 L435.8 504.57 L436.8 499.92 L437.8 496.14 L438.8 493.57 L439.8 492.47 L440.8 492.95 L441.8 494.95 L442.8 498.28 L443.8 502.63 L444.8 507.6 L445.8 512.8 L446.8 517.87 L447.8 522.53 L448.8 526.59 L449.8 529.95 L450.8 532.61 L451.8 534.63 L452.8 536.1 L453.8 537.13 L454.8 537.81 L455.8 538.26 L456.8 538.53 L457.8 538.7 L458.8 538.79 L459.8 538.84 L460.8 538.87 L461.8 538.89 L462.8 538.89 L463.8 538.9 L464.8 538.9 L465.8 538.9 L466.8 538.9 L467.8 538.9 L468.8 538.9 L469.8 538.9 L470.8 538.9 L471.8 538.9 L472.8 538.9 L473.8 538.9 L474.8 538.9 L475.8 538.9 L476.8 538.9 L477.8 538.9 L478.8 538.9 L479.8 538.9 L480.8 538.9 L481.8 538.9 L482.8 538.9 L483.8 538.9 L484.8 538.9 L485.8 538.9 L486.8 538.9 L487.8 538.9 L488.8 538.9 L489.8 538.9 L490.8 538.9 L491.8 538.9 L492.8 538.9 L493.8 538.9 L494.8 538.9 L495.8 538.9 L496.8 538.9 L497.8 538.9 L498.8 538.9 L499.8 538.9" fill="none" stroke="#000" stroke-width="1.4" stroke-linejoin="round"/>
<path d="M380 536.25V538.75M379 536.25H381M379 538.75H381" stroke="#ff0000" stroke-width="1.0" fill="none"/>
<circle cx="380" cy="537.5" r="2.75" fill="#ff0000"/>
<path d="M386 539.83V542.17M385 539.83H387M385 542.17H387" stroke="#ff0000" stroke-width="1.0" fill="none"/>
<circle cx="386" cy="541" r="2.75" fill="#ff0000"/>
<path d="M392 538.83V541.17M391 538.83H393M391 541.17H393" stroke="#ff0000" stroke-width="1.0" fill="none"/>
<circle cx="392" cy="540" r="2.75" fill="#ff0000"/>
<path d="M398 539.83V542.17M397 539.83H399M397 542.17H399" stroke="#ff0000" stroke-width="1.0" fill="none"/>
<circle cx="398" cy="541" r="2.75" fill="#ff0000"/>
<path d="M404 537.83V540.17M403 537.83H405M403 540.17H405" stroke="#ff0000" stroke-width="1.0" fill="none"/>
<circle cx="404" cy="539" r="2.75" fill="#ff0000"/>
<path d="M410 539.33V541.67M409 539.33H411M409 541.67H411" stroke="#ff0000" stroke-width="1.0" fill="none"/>
<circle cx="410" cy="540.5" r="2.75" fill="#ff0000"/>
<path d="M416 538.33V540.67M415 538.33H417M415 540.67H417" stroke="#ff0000" stroke-width="1.0" fill="none"/>
<circle cx="416" cy="539.5" r="2.75" fill="#ff0000"/>
<path d="M422 537.83V540.17M421 537.83H423M421 540.17H423" stroke="#ff0000" stroke-width="1.0" fill="none"/>
<circle cx="422" cy="539" r="2.75" fill="#ff0000"/>
<path d="M425 535.19V537.81M424 535.19H426M424 537.81H426" stroke="#ff0000" stroke-width="1.0" fill="none"/>
<circle cx="425" cy="536.5" r="2.75" fill="#ff0000"/>
<path d="M427.5 529.43V532.57M426.5 529.43H428.5M426.5 532.57H428.5" stroke="#ff0000" stroke-width="1.0" fill="none"/>
<circle cx="427.5" cy="531" r="2.75" fill="#ff0000"/>
<path d="M430.2 509.22V513.78M429.2 509.22H431.2M429.2 513.78H431.2" stroke="#ff0000" stroke-width="1.0" fill="none"/>
<circle cx="430.2" cy="511.5" r="2.75" fill="#ff0000"/>
<path d="M433.6 484.78V490.62M432.6 484.78H434.6M432.6 490.62H434.6" stroke="#ff0000" stroke-width="1.0" fill="none"/>
<circle cx="433.6" cy="487.7" r="2.75" fill="#ff0000"/>
<path d="M436.8 464.24V470.96M435.8 464.24H437.8M435.8 470.96H437.8" stroke="#ff0000" stroke-width="1.0" fill="none"/>
<circle cx="436.8" cy="467.6" r="2.75" fill="#ff0000"/>
<path d="M440 450.47V457.73M439 450.47H441M439 457.73H441" stroke="#ff0000" stroke-width="1.0" fill="none"/>
<circle cx="440" cy="454.1" r="2.75" fill="#ff0000"/>
<path d="M443.2 482.33V488.27M442.2 482.33H444.2M442.2 488.27H444.2" stroke="#ff0000" stroke-width="1.0" fill="none"/>
<circle cx="443.2" cy="485.3" r="2.75" fill="#ff0000"/>
<path d="M446.9 503.15V508.05M445.9 503.15H447.9M445.9 508.05H447.9" stroke="#ff0000" stroke-width="1.0" fill="none"/>
<circle cx="446.9" cy="505.6" r="2.75" fill="#ff0000"/>
<path d="M449.5 518V522M448.5 518H450.5M448.5 522H450.5" stroke="#ff0000" stroke-width="1.0" fill="none"/>
<circle cx="449.5" cy="520" r="2.75" fill="#ff0000"/>
<path d="M452 526.19V529.61M451 526.19H453M451 529.61H453" stroke="#ff0000" stroke-width="1.0" fill="none"/>
<circle cx="452" cy="527.9" r="2.75" fill="#ff0000"/>
<path d="M454.6 529.95V533.05M453.6 529.95H455.6M453.6 533.05H455.6" stroke="#ff0000" stroke-width="1.0" fill="none"/>
<circle cx="454.6" cy="531.5" r="2.75" fill="#ff0000"/>
<path d="M458 533.61V536.39M457 533.61H459M457 536.39H459" stroke="#ff0000" stroke-width="1.0" fill="none"/>
<circle cx="458" cy="535" r="2.75" fill="#ff0000"/>
<path d="M464 536.77V539.23M463 536.77H465M463 539.23H465" stroke="#ff0000" stroke-width="1.0" fill="none"/>
<circle cx="464" cy="538" r="2.75" fill="#ff0000"/>
<path d="M470 538.33V540.67M469 538.33H471M469 540.67H471" stroke="#ff0000" stroke-width="1.0" fill="none"/>
<circle cx="470" cy="539.5" r="2.75" fill="#ff0000"/>
<path d="M476 535.3V537.9M475 535.3H477M475 537.9H477" stroke="#ff0000" stroke-width="1.0" fill="none"/>
<circle cx="476" cy="536.6" r="2.75" fill="#ff0000"/>
<path d="M482 538.83V541.17M481 538.83H483M481 541.17H483" stroke="#ff0000" stroke-width="1.0" fill="none"/>
<circle cx="482" cy="540" r="2.75" fill="#ff0000"/>
<path d="M488 537.3V539.7M487 537.3H489M487 539.7H489" stroke="#ff0000" stroke-width="1.0" fill="none"/>
<circle cx="488" cy="538.5" r="2.75" fill="#ff0000"/>
<path d="M494 539.83V542.17M493 539.83H495M493 542.17H495" stroke="#ff0000" stroke-width="1.0" fill="none"/>
<circle cx="494" cy="541" r="2.75" fill="#ff0000"/>
<path d="M500 540.33V542.67M499 540.33H501M499 542.67H501" stroke="#ff0000" stroke-width="1.0" fill="none"/>
<circle cx="500" cy="541.5" r="2.75" fill="#ff0000"/>
<path d="M379.8 538.9 L380.8 538.9 L381.8 538.9 L382.8 538.9 L383.8 538.9 L384.8 538.9 L385.8 538.9 L386.8 538.9 L387.8 538.9 L388.8 538.9 L389.8 538.9 L390.8 538.9 L391.8 538.9 L392.8 538.9 L393.8 538.9 L394.8 538.9 L395.8 538.9 L396.8 538.9 L397.8 538.9 L398.8 538.9 L399.8 538.9 L400.8 538.9 L401.8 538.9 L402.8 538.9 L403.8 538.9 L404.8 538.9 L405.8 538.9 L406.8 538.9 L407.8 538.9 L408.8 538.9 L409.8 538.9 L410.8 538.9 L411.8 538.9 L412.8 538.89 L413.8 538.88 L414.8 538.86 L415.8 538.83 L416.8 538.78 L417.8 538.69 L418.8 538.54 L419.8 538.3 L420.8 537.92 L421.8 537.35 L422.8 536.52 L423.8 535.32 L424.8 533.66 L425.8 531.42 L426.8 528.5 L427.8 524.79 L428.8 520.25 L429.8 514.87 L430.8 508.72 L431.8 501.96 L432.8 494.82 L433.8 487.63 L434.8 480.78 L435.8 474.68 L436.8 469.73 L437.8 466.28 L438.8 464.59 L439.8 464.78 L440.8 466.83 L441.8 470.61 L442.8 475.82 L443.8 482.1 L444.8 489.05 L445.8 496.26 L446.8 503.35 L447.8 510.01 L448.8 516.01 L449.8 521.23 L450.8 525.6 L451.8 529.14 L452.8 531.92 L453.8 534.04 L454.8 535.6 L455.8 536.71 L456.8 537.49 L457.8 538.01 L458.8 538.35 L459.8 538.57 L460.8 538.71 L461.8 538.79 L462.8 538.84 L463.8 538.87 L464.8 538.88 L465.8 538.89 L466.8 538.9 L467.8 538.9 L468.8 538.9 L469.8 538.9 L470.8 538.9 L471.8 538.9 L472.8 538.9 L473.8 538.9 L474.8 538.9 L475.8 538.9 L476.8 538.9 L477.8 538.9 L478.8 538.9 L479.8 538.9 L480.8 538.9 L481.8 538.9 L482.8 538.9 L483.8 538.9 L484.8 538.9 L485.8 538.9 L486.8 538.9 L487.8 538.9 L488.8 538.9 L489.8 538.9 L490.8 538.9 L491.8 538.9 L492.8 538.9 L493.8 538.9 L494.8 538.9 L495.8 538.9 L496.8 538.9 L497.8 538.9 L498.8 538.9 L499.8 538.9" fill="none" stroke="#ff0000" stroke-width="1.4" stroke-linejoin="round"/>
<path d="M380 537.3V539.7M379 537.3H381M379 539.7H381" stroke="#0000ff" stroke-width="1.0" fill="none"/>
<path d="M380 535.1L383.1 538.5L380 541.9L376.9 538.5Z" fill="#0000ff"/>
<path d="M385.7 537.83V540.17M384.7 537.83H386.7M384.7 540.17H386.7" stroke="#0000ff" stroke-width="1.0" fill="none"/>
<path d="M385.7 535.6L388.8 539L385.7 542.4L382.6 539Z" fill="#0000ff"/>
<path d="M391.9 537.62V539.98M390.9 537.62H392.9M390.9 539.98H392.9" stroke="#0000ff" stroke-width="1.0" fill="none"/>
<path d="M391.9 535.4L395 538.8L391.9 542.2L388.8 538.8Z" fill="#0000ff"/>
<path d="M398 537.83V540.17M397 537.83H399M397 540.17H399" stroke="#0000ff" stroke-width="1.0" fill="none"/>
<path d="M398 535.6L401.1 539L398 542.4L394.9 539Z" fill="#0000ff"/>
<path d="M403.9 538.13V540.47M402.9 538.13H404.9M402.9 540.47H404.9" stroke="#0000ff" stroke-width="1.0" fill="none"/>
<path d="M403.9 535.9L407 539.3L403.9 542.7L400.8 539.3Z" fill="#0000ff"/>
<path d="M409.7 537.3V539.7M408.7 537.3H410.7M408.7 539.7H410.7" stroke="#0000ff" stroke-width="1.0" fill="none"/>
<path d="M409.7 535.1L412.8 538.5L409.7 541.9L406.6 538.5Z" fill="#0000ff"/>
<path d="M415.7 533.82V536.58M414.7 533.82H416.7M414.7 536.58H416.7" stroke="#0000ff" stroke-width="1.0" fill="none"/>
<path d="M415.7 531.8L418.8 535.2L415.7 538.6L412.6 535.2Z" fill="#0000ff"/>
<path d="M421.7 528.7V531.9M420.7 528.7H422.7M420.7 531.9H422.7" stroke="#0000ff" stroke-width="1.0" fill="none"/>
<path d="M421.7 526.9L424.8 530.3L421.7 533.7L418.6 530.3Z" fill="#0000ff"/>
<path d="M427.4 518.41V522.39M426.4 518.41H428.4M426.4 522.39H428.4" stroke="#0000ff" stroke-width="1.0" fill="none"/>
<path d="M427.4 517L430.5 520.4L427.4 523.8L424.3 520.4Z" fill="#0000ff"/>
<path d="M433.8 508.4V513M432.8 508.4H434.8M432.8 513H434.8" stroke="#0000ff" stroke-width="1.0" fill="none"/>
<path d="M433.8 507.3L436.9 510.7L433.8 514.1L430.7 510.7Z" fill="#0000ff"/>
<path d="M439.7 500.06V505.14M438.7 500.06H440.7M438.7 505.14H440.7" stroke="#0000ff" stroke-width="1.0" fill="none"/>
<path d="M439.7 499.2L442.8 502.6L439.7 506L436.6 502.6Z" fill="#0000ff"/>
<path d="M446.6 506.44V511.16M445.6 506.44H447.6M445.6 511.16H447.6" stroke="#0000ff" stroke-width="1.0" fill="none"/>
<path d="M446.6 505.4L449.7 508.8L446.6 512.2L443.5 508.8Z" fill="#0000ff"/>
<path d="M452.4 520.59V524.41M451.4 520.59H453.4M451.4 524.41H453.4" stroke="#0000ff" stroke-width="1.0" fill="none"/>
<path d="M452.4 519.1L455.5 522.5L452.4 525.9L449.3 522.5Z" fill="#0000ff"/>
<path d="M458 530.89V533.91M457 530.89H459M457 533.91H459" stroke="#0000ff" stroke-width="1.0" fill="none"/>
<path d="M458 529L461.1 532.4L458 535.8L454.9 532.4Z" fill="#0000ff"/>
<path d="M464.3 534.35V537.05M463.3 534.35H465.3M463.3 537.05H465.3" stroke="#0000ff" stroke-width="1.0" fill="none"/>
<path d="M464.3 532.3L467.4 535.7L464.3 539.1L461.2 535.7Z" fill="#0000ff"/>
<path d="M469.8 534.35V537.05M468.8 534.35H470.8M468.8 537.05H470.8" stroke="#0000ff" stroke-width="1.0" fill="none"/>
<path d="M469.8 532.3L472.9 535.7L469.8 539.1L466.7 535.7Z" fill="#0000ff"/>
<path d="M476.9 537.2V539.6M475.9 537.2H477.9M475.9 539.6H477.9" stroke="#0000ff" stroke-width="1.0" fill="none"/>
<path d="M476.9 535L480 538.4L476.9 541.8L473.8 538.4Z" fill="#0000ff"/>
<path d="M482 536.77V539.23M481 536.77H483M481 539.23H483" stroke="#0000ff" stroke-width="1.0" fill="none"/>
<path d="M482 534.6L485.1 538L482 541.4L478.9 538Z" fill="#0000ff"/>
<path d="M488 537.83V540.17M487 537.83H489M487 540.17H489" stroke="#0000ff" stroke-width="1.0" fill="none"/>
<path d="M488 535.6L491.1 539L488 542.4L484.9 539Z" fill="#0000ff"/>
<path d="M494 537.3V539.7M493 537.3H495M493 539.7H495" stroke="#0000ff" stroke-width="1.0" fill="none"/>
<path d="M494 535.1L497.1 538.5L494 541.9L490.9 538.5Z" fill="#0000ff"/>
<path d="M500 538.33V540.67M499 538.33H501M499 540.67H501" stroke="#0000ff" stroke-width="1.0" fill="none"/>
<path d="M500 536.1L503.1 539.5L500 542.9L496.9 539.5Z" fill="#0000ff"/>
<path d="M379.8 538.57 L380.8 538.57 L381.8 538.57 L382.8 538.57 L383.8 538.57 L384.8 538.57 L385.8 538.57 L386.8 538.57 L387.8 538.57 L388.8 538.57 L389.8 538.57 L390.8 538.57 L391.8 538.57 L392.8 538.57 L393.8 538.57 L394.8 538.57 L395.8 538.57 L396.8 538.56 L397.8 538.56 L398.8 538.56 L399.8 538.55 L400.8 538.54 L401.8 538.53 L402.8 538.52 L403.8 538.49 L404.8 538.46 L405.8 538.42 L406.8 538.37 L407.8 538.29 L408.8 538.2 L409.8 538.07 L410.8 537.91 L411.8 537.71 L412.8 537.45 L413.8 537.13 L414.8 536.74 L415.8 536.26 L416.8 535.68 L417.8 534.99 L418.8 534.17 L419.8 533.22 L420.8 532.13 L421.8 530.89 L422.8 529.5 L423.8 527.95 L424.8 526.26 L425.8 524.43 L426.8 522.48 L427.8 520.43 L428.8 518.32 L429.8 516.17 L430.8 514.03 L431.8 511.93 L432.8 509.92 L433.8 508.06 L434.8 506.37 L435.8 504.91 L436.8 503.72 L437.8 502.82 L438.8 502.24 L439.8 502 L440.8 502.11 L441.8 502.55 L442.8 503.32 L443.8 504.4 L444.8 505.76 L445.8 507.36 L446.8 509.16 L447.8 511.11 L448.8 513.18 L449.8 515.31 L450.8 517.46 L451.8 519.6 L452.8 521.67 L453.8 523.66 L454.8 525.54 L455.8 527.29 L456.8 528.9 L457.8 530.35 L458.8 531.66 L459.8 532.81 L460.8 533.81 L461.8 534.68 L462.8 535.41 L463.8 536.04 L464.8 536.56 L465.8 536.98 L466.8 537.33 L467.8 537.61 L468.8 537.84 L469.8 538.01 L470.8 538.15 L471.8 538.26 L472.8 538.34 L473.8 538.4 L474.8 538.45 L475.8 538.48 L476.8 538.51 L477.8 538.53 L478.8 538.54 L479.8 538.55 L480.8 538.56 L481.8 538.56 L482.8 538.56 L483.8 538.57 L484.8 538.57 L485.8 538.57 L486.8 538.57 L487.8 538.57 L488.8 538.57 L489.8 538.57 L490.8 538.57 L491.8 538.57 L492.8 538.57 L493.8 538.57 L494.8 538.57 L495.8 538.57 L496.8 538.57 L497.8 538.57 L498.8 538.57 L499.8 538.57" fill="none" stroke="#0000ff" stroke-width="1.4" stroke-linejoin="round"/>
</g>
<path d="M372.3 344.5H507.7V548.5H372.3Z M372.3 446.3H507.7" fill="none" stroke="#000" stroke-width="1.1"/>
<line x1="507.7" y1="446.3" x2="510" y2="446.3" stroke="#000" stroke-width="1.0"/>
<path d="M379.8 344.5V346.4M409.9 344.5V346.4M440 344.5V346.4M470.1 344.5V346.4M500.2 344.5V346.4M394.85 344.5V345.7M424.95 344.5V345.7M455.05 344.5V345.7M485.15 344.5V345.7" stroke="#000" stroke-width="1.0" fill="none"/>
<path d="M379.8 444.4V448.2M409.9 444.4V448.2M440 444.4V448.2M470.1 444.4V448.2M500.2 444.4V448.2M394.85 445.1V447.5M424.95 445.1V447.5M455.05 445.1V447.5M485.15 445.1V447.5" stroke="#000" stroke-width="1.0" fill="none"/>
<path d="M379.8 546.6V548.5M409.9 546.6V548.5M440 546.6V548.5M470.1 546.6V548.5M500.2 546.6V548.5M394.85 547.3V548.5M424.95 547.3V548.5M455.05 547.3V548.5M485.15 547.3V548.5" stroke="#000" stroke-width="1.0" fill="none"/>
<path d="M372.3 344.5H374.2M372.3 375.1H374.2M372.3 406.1H374.2M372.3 437.1H374.2M372.3 359.6H373.5M372.3 390.6H373.5M372.3 421.6H373.5" stroke="#000" stroke-width="1.0" fill="none"/>
<path d="M372.3 473H374.2M372.3 505.9H374.2M372.3 538.9H374.2M372.3 456.5H373.5M372.3 489.5H373.5M372.3 522.4H373.5" stroke="#000" stroke-width="1.0" fill="none"/>
<text transform="translate(370.8 346.5) scale(1 1.1)" font-size="8.8" text-anchor="end" >300</text>
<text transform="translate(370.8 378) scale(1 1.1)" font-size="8.8" text-anchor="end" >200</text>
<text transform="translate(370.8 409) scale(1 1.1)" font-size="8.8" text-anchor="end" >100</text>
<text transform="translate(370.8 440.2) scale(1 1.1)" font-size="8.8" text-anchor="end" >0</text>
<text transform="translate(370.8 476) scale(1 1.1)" font-size="8.8" text-anchor="end" >200</text>
<text transform="translate(370.8 508.9) scale(1 1.1)" font-size="8.8" text-anchor="end" >100</text>
<text transform="translate(370.8 541.9) scale(1 1.1)" font-size="8.8" text-anchor="end" >0</text>
<text transform="translate(380 340.6) scale(1 1.1)" font-size="8.8" text-anchor="middle" >-0.4</text>
<text transform="translate(410.1 340.6) scale(1 1.1)" font-size="8.8" text-anchor="middle" >-0.2</text>
<text transform="translate(440.3 340.6) scale(1 1.1)" font-size="8.8" text-anchor="middle" >0.0</text>
<text transform="translate(470.4 340.6) scale(1 1.1)" font-size="8.8" text-anchor="middle" >0.2</text>
<text transform="translate(500.5 340.6) scale(1 1.1)" font-size="8.8" text-anchor="middle" >0.4</text>
<text transform="translate(379.5 557.4) scale(1 1.1)" font-size="8.8" text-anchor="middle" >0.6</text>
<text transform="translate(409.6 557.4) scale(1 1.1)" font-size="8.8" text-anchor="middle" >0.8</text>
<text transform="translate(439.7 557.4) scale(1 1.1)" font-size="8.8" text-anchor="middle" >1.0</text>
<text transform="translate(469.8 557.4) scale(1 1.1)" font-size="8.8" text-anchor="middle" >1.2</text>
<text transform="translate(499.9 557.4) scale(1 1.1)" font-size="8.8" text-anchor="middle" >1.4</text>
<text x="445.8" y="325.4" font-size="11.2" text-anchor="middle" >[1, K, 1] (r.l.u.)</text>
<text x="444.2" y="569.7" font-size="11.0" text-anchor="middle" >[H, 0, H] (r.l.u.)</text>
<text x="375.7" y="356.3" font-size="10.0" text-anchor="start" >(e)</text>
<text x="415" y="359.7" font-size="9.9" text-anchor="start" >TR</text>
<text x="375.8" y="460.5" font-size="9.7" text-anchor="start" >(f)</text>
<text x="415.2" y="465.7" font-size="9.9" text-anchor="start" >LO</text>
<text x="452.7" y="459.4" font-size="9.7" text-anchor="start" >L=1</text>
<text x="452.7" y="472.6" font-size="9.7" text-anchor="start" >E=7.5meV</text>
<rect x="464.4" y="367" width="5.8" height="5.8" fill="#000"/>
<circle cx="467.3" cy="382.2" r="3.4" fill="#ff0000"/>
<path d="M467.3 390.7L471.4 394.8L467.3 398.9L463.2 394.8Z" fill="#0000ff"/>
<text x="478.9" y="372.5" font-size="9.6" text-anchor="start" >3K</text>
<text x="478.9" y="384.8" font-size="9.6" text-anchor="start" >80K</text>
<text x="478.9" y="397.3" font-size="9.6" text-anchor="start" >120K</text>
</g>
</svg></body></html>
